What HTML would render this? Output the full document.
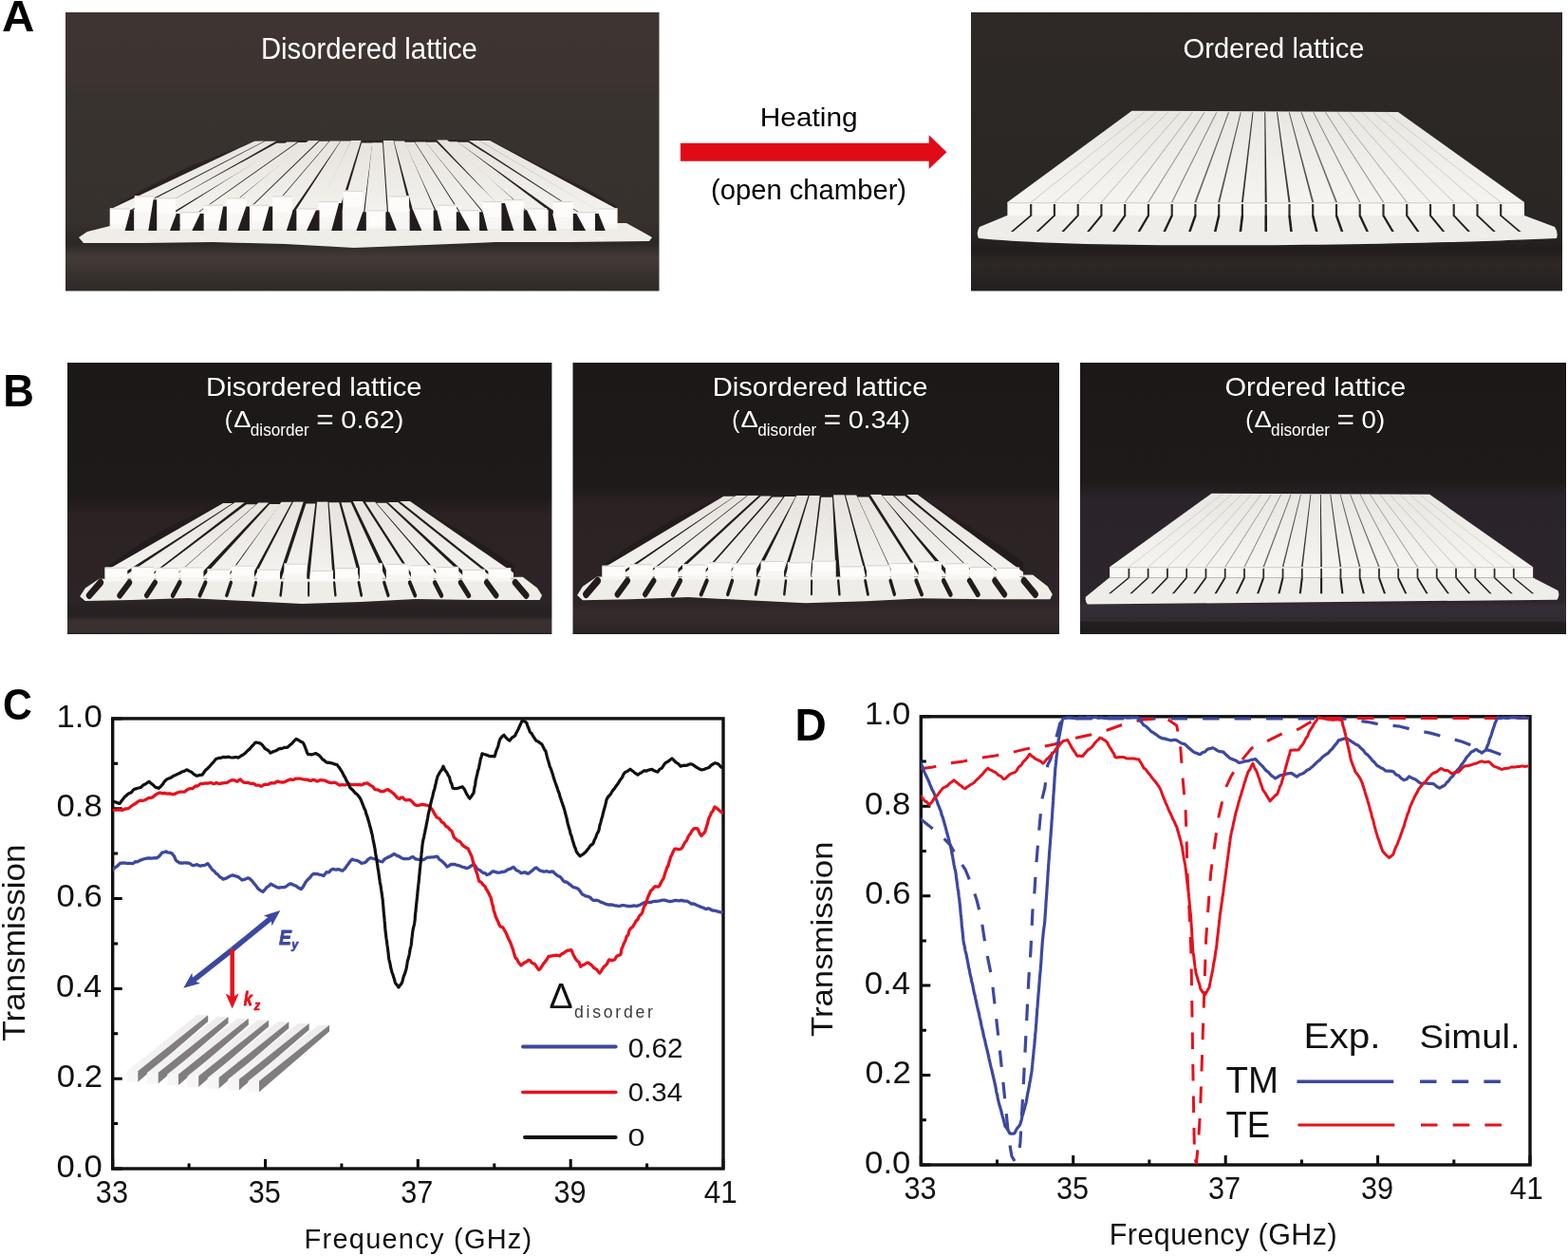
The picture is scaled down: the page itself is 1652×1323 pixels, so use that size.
<!DOCTYPE html>
<html><head><meta charset="utf-8"><title>Figure</title>
<style>html,body{margin:0;padding:0;background:#fff;}svg{display:block;}text{font-family:'Liberation Sans', Arial, Helvetica, sans-serif;}</style>
</head><body>
<svg width="1652" height="1323" viewBox="0 0 1652 1323">
<defs><filter id="soft" x="-5%" y="-5%" width="110%" height="110%"><feGaussianBlur stdDeviation="0.55"/></filter><linearGradient id="gbar" gradientUnits="userSpaceOnUse" x1="0" y1="147" x2="0" y2="225"><stop offset="0" stop-color="#e6e3de"/><stop offset="1" stop-color="#f4f2ee"/></linearGradient><linearGradient id="gtopA" gradientUnits="userSpaceOnUse" x1="0" y1="117" x2="0" y2="213"><stop offset="0" stop-color="#e9e7e2"/><stop offset="1" stop-color="#f5f4f0"/></linearGradient><linearGradient id="ga1" x1="0" y1="0" x2="0" y2="1"><stop offset="0" stop-color="#3e3432"/><stop offset="0.26" stop-color="#3d3331"/><stop offset="0.29" stop-color="#39332f"/><stop offset="0.75" stop-color="#37312d"/><stop offset="0.83" stop-color="#2c2826"/><stop offset="0.88" stop-color="#443b37"/><stop offset="0.93" stop-color="#3a3330"/><stop offset="1" stop-color="#2f2a27"/></linearGradient><linearGradient id="ga2" x1="0" y1="0" x2="0" y2="1"><stop offset="0" stop-color="#2e2926"/><stop offset="0.6" stop-color="#2b2725"/><stop offset="0.8" stop-color="#292524"/><stop offset="0.85" stop-color="#211d1c"/><stop offset="0.9" stop-color="#2d2826"/><stop offset="1" stop-color="#231f1e"/></linearGradient><clipPath id="clip5"><polygon points="268.6,148.6 516,147 560,170 620,200 650,217 650,238 116,238 116,220 150,200 200,175"/></clipPath><linearGradient id="gb1" x1="0" y1="0" x2="0" y2="1"><stop offset="0" stop-color="#1d1818"/><stop offset="0.5" stop-color="#1f1a1a"/><stop offset="0.56" stop-color="#2c2224"/><stop offset="0.88" stop-color="#2c2426"/><stop offset="0.9" stop-color="#262122"/><stop offset="0.935" stop-color="#272122"/><stop offset="0.95" stop-color="#3a3030"/><stop offset="0.99" stop-color="#393030"/><stop offset="1" stop-color="#232020"/></linearGradient><linearGradient id="gb2" x1="0" y1="0" x2="0" y2="1"><stop offset="0" stop-color="#1d1818"/><stop offset="0.46" stop-color="#1f1a1a"/><stop offset="0.52" stop-color="#2c2224"/><stop offset="0.88" stop-color="#2c2426"/><stop offset="0.92" stop-color="#342b2b"/><stop offset="0.96" stop-color="#312929"/><stop offset="0.99" stop-color="#2a2424"/><stop offset="1" stop-color="#221e1e"/></linearGradient><linearGradient id="gb3" x1="0" y1="0" x2="0" y2="1"><stop offset="0" stop-color="#1d1818"/><stop offset="0.44" stop-color="#1f1a1a"/><stop offset="0.5" stop-color="#2a2329"/><stop offset="0.88" stop-color="#2c252b"/><stop offset="0.895" stop-color="#342d35"/><stop offset="0.95" stop-color="#302a31"/><stop offset="0.958" stop-color="#221e1f"/><stop offset="1" stop-color="#1f1c1d"/></linearGradient><clipPath id="clip11"><polygon points="268.6,148.6 516,147 560,170 620,200 650,217 650,232 116,232 116,220 150,200 200,175"/></clipPath><clipPath id="clip21"><polygon points="268.6,148.6 516,147 560,170 620,200 650,217 650,232 116,232 116,220 150,200 200,175"/></clipPath><clipPath id="cpc"><rect x="118.7" y="756" width="643.3" height="475"/></clipPath><clipPath id="cpd"><rect x="970.3" y="754" width="641.7" height="473"/></clipPath><linearGradient id="gtop" x1="0" y1="1" x2="1" y2="0"><stop offset="0" stop-color="#f4f4f4"/><stop offset="1" stop-color="#ececec"/></linearGradient></defs>
<rect width="1652" height="1323" fill="#fff"/>
<rect x="69" y="13" width="625.5" height="293.5" fill="url(#ga1)"/>
<rect x="1023" y="13" width="623" height="293.5" fill="url(#ga2)"/>
<g transform="translate(0,0)" filter="url(#soft)"><polygon points="83,250 92,244 116,238 660,235 680,246 687,250 684,254 600,255 522,255 450,258 373,261 300,257 224,255 150,256 88,256" fill="#efede8"/><polygon points="268.6,148.6 516,147 560,170 620,200 650,217 650,238 116,238 116,220 150,200 200,175" fill="#2a2323"/><g clip-path="url(#clip5)"><polygon points="268.9,148.2 279.3,148.2 102.7,239 76.6,239" fill="url(#gbar)"/><polygon points="279.8,148.6 291.3,148.6 132,239 106.2,239" fill="url(#gbar)"/><polygon points="291.5,150.8 302.5,150.8 156.3,239 130.2,239" fill="url(#gbar)"/><polygon points="302.4,149.5 313.3,149.5 186.7,239 160.7,239" fill="url(#gbar)"/><polygon points="314,150.1 324.3,150.1 214,239 187.8,239" fill="url(#gbar)"/><polygon points="325.3,147.8 336.2,147.8 241.9,239 216,239" fill="url(#gbar)"/><polygon points="336.6,148.7 346.8,148.7 269.3,239 243.1,239" fill="url(#gbar)"/><polygon points="347.6,148.6 358.7,148.6 296.6,239 270.6,239" fill="url(#gbar)"/><polygon points="359.1,148.5 369.6,148.5 326.5,239 300.4,239" fill="url(#gbar)"/><polygon points="369.9,147.7 380.6,147.7 351.6,239 325.6,239" fill="url(#gbar)"/><polygon points="381,150.4 392.3,150.4 381.2,239 355.2,239" fill="url(#gbar)"/><polygon points="392.2,150.3 403,150.3 408.8,239 382.7,239" fill="url(#gbar)"/><polygon points="403.8,147.9 414.5,147.9 436.1,239 410.1,239" fill="url(#gbar)"/><polygon points="415.1,148.5 426.1,148.5 465.7,239 439.8,239" fill="url(#gbar)"/><polygon points="426.2,149.8 436.7,149.8 493.5,239 467.4,239" fill="url(#gbar)"/><polygon points="437.1,149.5 448.3,149.5 520.8,239 494.9,239" fill="url(#gbar)"/><polygon points="448.4,149.8 459.8,149.8 548.3,239 522.4,239" fill="url(#gbar)"/><polygon points="460.1,147.2 471,147.2 572.8,239 546.9,239" fill="url(#gbar)"/><polygon points="471.2,149.3 481.8,149.3 601,239 574.9,239" fill="url(#gbar)"/><polygon points="482.3,149.7 493.3,149.7 633.2,239 607.1,239" fill="url(#gbar)"/><polygon points="494,148 504.9,148 659.8,239 633.8,239" fill="url(#gbar)"/><polygon points="504.9,148 516,148 684.9,239 658.9,239" fill="url(#gbar)"/></g><rect x="115.7" y="219.4" width="21.1" height="21.6" fill="#f7f6f2"/><rect x="116" y="219.4" width="20.5" height="17" fill="#fdfcfa"/><line x1="116" y1="220" x2="136.5" y2="220" stroke="#d9d5cf" stroke-width="1.2"/><rect x="141.7" y="206.3" width="21.1" height="34.7" fill="#f7f6f2"/><rect x="142" y="206.3" width="20.5" height="17" fill="#fdfcfa"/><line x1="142" y1="206.9" x2="162.5" y2="206.9" stroke="#d9d5cf" stroke-width="1.2"/><rect x="164.1" y="208.2" width="21.1" height="32.8" fill="#f7f6f2"/><rect x="164.4" y="208.2" width="20.5" height="17" fill="#fdfcfa"/><line x1="164.4" y1="208.8" x2="184.9" y2="208.8" stroke="#d9d5cf" stroke-width="1.2"/><rect x="190.1" y="223.1" width="21.1" height="17.9" fill="#f7f6f2"/><rect x="190.4" y="223.1" width="20.5" height="17" fill="#fdfcfa"/><line x1="190.4" y1="223.7" x2="210.9" y2="223.7" stroke="#d9d5cf" stroke-width="1.2"/><rect x="214.3" y="215.6" width="21.1" height="25.4" fill="#f7f6f2"/><rect x="214.6" y="215.6" width="20.5" height="17" fill="#fdfcfa"/><line x1="214.6" y1="216.2" x2="235.1" y2="216.2" stroke="#d9d5cf" stroke-width="1.2"/><rect x="238.5" y="208.2" width="21.1" height="32.8" fill="#f7f6f2"/><rect x="238.8" y="208.2" width="20.5" height="17" fill="#fdfcfa"/><line x1="238.8" y1="208.8" x2="259.3" y2="208.8" stroke="#d9d5cf" stroke-width="1.2"/><rect x="262.7" y="215.6" width="21.1" height="25.4" fill="#f7f6f2"/><rect x="263" y="215.6" width="20.5" height="17" fill="#fdfcfa"/><line x1="263" y1="216.2" x2="283.5" y2="216.2" stroke="#d9d5cf" stroke-width="1.2"/><rect x="286.9" y="206.3" width="21.1" height="34.7" fill="#f7f6f2"/><rect x="287.2" y="206.3" width="20.5" height="17" fill="#fdfcfa"/><line x1="287.2" y1="206.9" x2="307.7" y2="206.9" stroke="#d9d5cf" stroke-width="1.2"/><rect x="313" y="219.4" width="21.1" height="21.6" fill="#f7f6f2"/><rect x="313.3" y="219.4" width="20.5" height="17" fill="#fdfcfa"/><line x1="313.3" y1="220" x2="333.8" y2="220" stroke="#d9d5cf" stroke-width="1.2"/><rect x="335.3" y="211.9" width="21.1" height="29.1" fill="#f7f6f2"/><rect x="335.6" y="211.9" width="20.5" height="17" fill="#fdfcfa"/><line x1="335.6" y1="212.5" x2="356.1" y2="212.5" stroke="#d9d5cf" stroke-width="1.2"/><rect x="361.4" y="200.7" width="21.1" height="40.3" fill="#f7f6f2"/><rect x="361.7" y="200.7" width="20.5" height="17" fill="#fdfcfa"/><line x1="361.7" y1="201.3" x2="382.2" y2="201.3" stroke="#d9d5cf" stroke-width="1.2"/><rect x="385.6" y="221.2" width="21.1" height="19.8" fill="#f7f6f2"/><rect x="385.9" y="221.2" width="20.5" height="17" fill="#fdfcfa"/><line x1="385.9" y1="221.8" x2="406.4" y2="221.8" stroke="#d9d5cf" stroke-width="1.2"/><rect x="409.8" y="206.3" width="21.1" height="34.7" fill="#f7f6f2"/><rect x="410.1" y="206.3" width="20.5" height="17" fill="#fdfcfa"/><line x1="410.1" y1="206.9" x2="430.6" y2="206.9" stroke="#d9d5cf" stroke-width="1.2"/><rect x="435.8" y="219.4" width="21.1" height="21.6" fill="#f7f6f2"/><rect x="436.1" y="219.4" width="20.5" height="17" fill="#fdfcfa"/><line x1="436.1" y1="220" x2="456.6" y2="220" stroke="#d9d5cf" stroke-width="1.2"/><rect x="460" y="215.6" width="21.1" height="25.4" fill="#f7f6f2"/><rect x="460.3" y="215.6" width="20.5" height="17" fill="#fdfcfa"/><line x1="460.3" y1="216.2" x2="480.8" y2="216.2" stroke="#d9d5cf" stroke-width="1.2"/><rect x="484.2" y="221.2" width="21.1" height="19.8" fill="#f7f6f2"/><rect x="484.5" y="221.2" width="20.5" height="17" fill="#fdfcfa"/><line x1="484.5" y1="221.8" x2="505" y2="221.8" stroke="#d9d5cf" stroke-width="1.2"/><rect x="508.4" y="211.9" width="21.1" height="29.1" fill="#f7f6f2"/><rect x="508.7" y="211.9" width="20.5" height="17" fill="#fdfcfa"/><line x1="508.7" y1="212.5" x2="529.2" y2="212.5" stroke="#d9d5cf" stroke-width="1.2"/><rect x="530.8" y="210" width="21.1" height="31" fill="#f7f6f2"/><rect x="531.1" y="210" width="20.5" height="17" fill="#fdfcfa"/><line x1="531.1" y1="210.6" x2="551.6" y2="210.6" stroke="#d9d5cf" stroke-width="1.2"/><rect x="555" y="219.4" width="21.1" height="21.6" fill="#f7f6f2"/><rect x="555.3" y="219.4" width="20.5" height="17" fill="#fdfcfa"/><line x1="555.3" y1="220" x2="575.8" y2="220" stroke="#d9d5cf" stroke-width="1.2"/><rect x="582.9" y="211.9" width="21.1" height="29.1" fill="#f7f6f2"/><rect x="583.2" y="211.9" width="20.5" height="17" fill="#fdfcfa"/><line x1="583.2" y1="212.5" x2="603.7" y2="212.5" stroke="#d9d5cf" stroke-width="1.2"/><rect x="607.1" y="223.1" width="21.1" height="17.9" fill="#f7f6f2"/><rect x="607.4" y="223.1" width="20.5" height="17" fill="#fdfcfa"/><line x1="607.4" y1="223.7" x2="627.9" y2="223.7" stroke="#d9d5cf" stroke-width="1.2"/><rect x="629.4" y="219.4" width="21.1" height="21.6" fill="#f7f6f2"/><rect x="629.7" y="219.4" width="20.5" height="17" fill="#fdfcfa"/><line x1="629.7" y1="220" x2="650.2" y2="220" stroke="#d9d5cf" stroke-width="1.2"/><polygon points="137.4,221.4 141.1,221.4 141.1,243 131.6,243" fill="#221c1d"/><polygon points="161.6,210.2 165.2,210.2 165.2,243 156.3,243" fill="#221c1d"/><polygon points="185.8,225.1 189.5,225.1 189.5,243 179,243" fill="#221c1d"/><polygon points="210.9,225.1 214.6,225.1 214.6,243 202.3,243" fill="#221c1d"/><polygon points="235.1,217.6 238.8,217.6 238.8,243 230.1,243" fill="#221c1d"/><polygon points="259.3,217.6 262.9,217.6 262.9,243 250.3,243" fill="#221c1d"/><polygon points="283.6,217.6 287.2,217.6 287.2,243 276.5,243" fill="#221c1d"/><polygon points="308.7,221.4 312.3,221.4 312.3,243 301.8,243" fill="#221c1d"/><polygon points="332.9,221.4 336.5,221.4 336.5,243 323,243" fill="#221c1d"/><polygon points="357.1,213.9 360.7,213.9 360.7,243 349.2,243" fill="#221c1d"/><polygon points="382.2,223.2 385.8,223.2 385.8,243 375.4,243" fill="#221c1d"/><polygon points="406.4,223.2 410.1,223.2 417.9,243 406.4,243" fill="#221c1d"/><polygon points="431.6,221.4 435.2,221.4 444.4,243 431.6,243" fill="#221c1d"/><polygon points="456.7,221.4 460.3,221.4 465.6,243 456.7,243" fill="#221c1d"/><polygon points="480.8,223.2 484.4,223.2 495.3,243 480.8,243" fill="#221c1d"/><polygon points="505.1,223.2 508.7,223.2 513.8,243 505.1,243" fill="#221c1d"/><polygon points="528.4,213.9 532,213.9 541.4,243 528.4,243" fill="#221c1d"/><polygon points="551.7,221.4 555.2,221.4 565.3,243 551.7,243" fill="#221c1d"/><polygon points="577.7,221.4 581.3,221.4 586.4,243 577.7,243" fill="#221c1d"/><polygon points="603.8,225.1 607.3,225.1 617.1,243 603.8,243" fill="#221c1d"/><polygon points="627,225.1 630.6,225.1 637.8,243 627,243" fill="#221c1d"/></g>
<g transform="translate(0,0)" filter="url(#soft)"><path d="M1061 227 L1606 227 L1638 239 Q1642 245 1640 251 C1520 257 1160 264 1031 251 Q1028 245 1032 239 Z" fill="#efede9"/><polygon points="1192.5,116.7 1473,117.9 1606,213 1061.4,213" fill="url(#gtopA)"/><polygon points="1204.8,118.2 1205.7,118.2 1086.9,213 1085.5,213" fill="#2a2424" opacity="0.18"/><polygon points="1217.5,118.2 1218.5,118.2 1111.6,213 1110.2,213" fill="#2a2424" opacity="0.18"/><polygon points="1230.3,118.2 1231.2,118.2 1136.4,213 1135,213" fill="#2a2424" opacity="0.18"/><polygon points="1243,118.2 1244,118.2 1161.1,213 1159.7,213" fill="#2a2424" opacity="0.20"/><polygon points="1255.8,118.2 1256.7,118.2 1185.9,213 1184.5,213" fill="#2a2424" opacity="0.32"/><polygon points="1268.5,118.2 1269.5,118.2 1210.6,213 1209.2,213" fill="#2a2424" opacity="0.43"/><polygon points="1281.3,118.2 1282.2,118.2 1235.4,213 1234,213" fill="#2a2424" opacity="0.55"/><polygon points="1294,118.2 1295,118.2 1260.4,213 1258.4,213" fill="#2a2424" opacity="0.66"/><polygon points="1306.8,118.2 1307.7,118.2 1285.2,213 1283.2,213" fill="#2a2424" opacity="0.77"/><polygon points="1319.5,118.2 1320.5,118.2 1309.9,213 1307.9,213" fill="#2a2424" opacity="0.89"/><polygon points="1332.3,118.2 1333.2,118.2 1334.7,213 1332.7,213" fill="#2a2424" opacity="1.00"/><polygon points="1345,118.2 1346,118.2 1359.5,213 1357.5,213" fill="#2a2424" opacity="0.89"/><polygon points="1357.8,118.2 1358.7,118.2 1384.2,213 1382.2,213" fill="#2a2424" opacity="0.77"/><polygon points="1370.5,118.2 1371.5,118.2 1409,213 1407,213" fill="#2a2424" opacity="0.66"/><polygon points="1383.3,118.2 1384.2,118.2 1433.4,213 1432,213" fill="#2a2424" opacity="0.55"/><polygon points="1396,118.2 1397,118.2 1458.2,213 1456.8,213" fill="#2a2424" opacity="0.43"/><polygon points="1408.8,118.2 1409.7,118.2 1482.9,213 1481.5,213" fill="#2a2424" opacity="0.32"/><polygon points="1421.5,118.2 1422.5,118.2 1507.7,213 1506.3,213" fill="#2a2424" opacity="0.20"/><polygon points="1434.3,118.2 1435.2,118.2 1532.4,213 1531,213" fill="#2a2424" opacity="0.18"/><polygon points="1447,118.2 1448,118.2 1557.2,213 1555.8,213" fill="#2a2424" opacity="0.18"/><polygon points="1459.8,118.2 1460.7,118.2 1581.9,213 1580.5,213" fill="#2a2424" opacity="0.18"/><rect x="1061.4" y="213" width="544.6" height="14" fill="#f8f7f4"/><line x1="1061.4" y1="213.6" x2="1606" y2="213.6" stroke="#d6d2cc" stroke-width="1.2"/><polygon points="1085.1,215 1087.3,215 1087.3,227 1085.1,227" fill="#332c2c"/><polygon points="1084.9,227 1087.5,227 1067.5,244 1064.9,244" fill="#241e1e"/><polygon points="1109.8,215 1112,215 1112,227 1109.8,227" fill="#332c2c"/><polygon points="1109.6,227 1112.2,227 1094.2,244 1091.6,244" fill="#241e1e"/><polygon points="1134.6,215 1136.8,215 1136.8,227 1134.6,227" fill="#332c2c"/><polygon points="1134.4,227 1137,227 1121,244 1118.4,244" fill="#241e1e"/><polygon points="1159.3,215 1161.5,215 1161.5,227 1159.3,227" fill="#332c2c"/><polygon points="1159.1,227 1161.7,227 1147.7,244 1145.1,244" fill="#241e1e"/><polygon points="1184.1,215 1186.3,215 1186.3,227 1184.1,227" fill="#332c2c"/><polygon points="1183.9,227 1186.5,227 1174.5,244 1171.9,244" fill="#241e1e"/><polygon points="1208.8,215 1211,215 1211,227 1208.8,227" fill="#332c2c"/><polygon points="1208.6,227 1211.2,227 1201.2,244 1198.6,244" fill="#241e1e"/><polygon points="1233.6,215 1235.8,215 1235.8,227 1233.6,227" fill="#332c2c"/><polygon points="1233.4,227 1236,227 1228,244 1225.4,244" fill="#241e1e"/><polygon points="1258.3,215 1260.5,215 1260.5,227 1258.3,227" fill="#332c2c"/><polygon points="1258.1,227 1260.7,227 1254.7,244 1252.1,244" fill="#241e1e"/><polygon points="1283.1,215 1285.3,215 1285.3,227 1283.1,227" fill="#332c2c"/><polygon points="1282.9,227 1285.5,227 1281.5,244 1278.9,244" fill="#241e1e"/><polygon points="1307.8,215 1310,215 1310,227 1307.8,227" fill="#332c2c"/><polygon points="1307.6,227 1310.2,227 1308.2,244 1305.6,244" fill="#241e1e"/><polygon points="1332.6,215 1334.8,215 1334.8,227 1332.6,227" fill="#332c2c"/><polygon points="1332.4,227 1335,227 1335,244 1332.4,244" fill="#241e1e"/><polygon points="1357.4,215 1359.6,215 1359.6,227 1357.4,227" fill="#332c2c"/><polygon points="1357.2,227 1359.8,227 1361.8,244 1359.2,244" fill="#241e1e"/><polygon points="1382.1,215 1384.3,215 1384.3,227 1382.1,227" fill="#332c2c"/><polygon points="1381.9,227 1384.5,227 1388.5,244 1385.9,244" fill="#241e1e"/><polygon points="1406.9,215 1409.1,215 1409.1,227 1406.9,227" fill="#332c2c"/><polygon points="1406.7,227 1409.3,227 1415.3,244 1412.7,244" fill="#241e1e"/><polygon points="1431.6,215 1433.8,215 1433.8,227 1431.6,227" fill="#332c2c"/><polygon points="1431.4,227 1434,227 1442,244 1439.4,244" fill="#241e1e"/><polygon points="1456.4,215 1458.6,215 1458.6,227 1456.4,227" fill="#332c2c"/><polygon points="1456.2,227 1458.8,227 1468.8,244 1466.2,244" fill="#241e1e"/><polygon points="1481.1,215 1483.3,215 1483.3,227 1481.1,227" fill="#332c2c"/><polygon points="1480.9,227 1483.5,227 1495.5,244 1492.9,244" fill="#241e1e"/><polygon points="1505.9,215 1508.1,215 1508.1,227 1505.9,227" fill="#332c2c"/><polygon points="1505.7,227 1508.3,227 1522.3,244 1519.7,244" fill="#241e1e"/><polygon points="1530.6,215 1532.8,215 1532.8,227 1530.6,227" fill="#332c2c"/><polygon points="1530.4,227 1533,227 1549,244 1546.4,244" fill="#241e1e"/><polygon points="1555.4,215 1557.6,215 1557.6,227 1555.4,227" fill="#332c2c"/><polygon points="1555.2,227 1557.8,227 1575.8,244 1573.2,244" fill="#241e1e"/><polygon points="1580.1,215 1582.3,215 1582.3,227 1580.1,227" fill="#332c2c"/><polygon points="1579.9,227 1582.5,227 1602.5,244 1599.9,244" fill="#241e1e"/></g>
<text transform="translate(274.96,62.19) scale(0.9572,1)" font-size="30.61" font-weight="normal" font-style="normal" fill="#fff" >Disordered lattice</text>
<text transform="translate(1246.59,61.11) scale(1.0138,1)" font-size="28.71" font-weight="normal" font-style="normal" fill="#fff" >Ordered lattice</text>
<polygon points="716.9,150.7 978.7,150.7 978.7,142.2 997.4,160.2 978.7,177.9 978.7,169.8 716.9,169.8" fill="#e10a17"/>
<text transform="translate(800.81,132.59) scale(1.0612,1)" font-size="28.13" font-weight="normal" font-style="normal" fill="#000" >Heating</text>
<text transform="translate(748.95,210.19) scale(1.0042,1)" font-size="29.09" font-weight="normal" font-style="normal" fill="#000" >(open chamber)</text>
<rect x="71" y="382" width="510.4" height="286" fill="url(#gb1)"/>
<rect x="603.5" y="382" width="512.5" height="286" fill="url(#gb2)"/>
<rect x="1138" y="382" width="512" height="286" fill="url(#gb3)"/>
<g transform="matrix(0.806,0,0,0.9675,17.3,385.3)" filter="url(#soft)"><polygon points="83,251 90,242 108,232 662,230 681,242 687,250 684,255 600,255 522,254 450,257 373,259 300,256 224,253 150,255 90,256" fill="#efede8"/><polygon points="268.6,148.6 516,147 560,170 620,200 650,217 650,232 116,232 116,220 150,200 200,175" fill="#221c1d"/><g clip-path="url(#clip11)"><polygon points="270.2,149.5 282.7,149.5 126.4,233 96.5,233" fill="url(#gbar)"/><polygon points="285.7,148.7 298.3,148.7 166.8,233 133.8,233" fill="url(#gbar)"/><polygon points="300.7,150.8 313.3,150.8 200.9,233 169.5,233" fill="url(#gbar)"/><polygon points="316.4,149 329.8,149 233.5,233 201.7,233" fill="url(#gbar)"/><polygon points="331.1,150.6 344.9,150.6 272.1,233 240.9,233" fill="url(#gbar)"/><polygon points="346.5,148.1 360.2,148.1 305,233 274.3,233" fill="url(#gbar)"/><polygon points="362.1,147.8 375.3,147.8 341.4,233 309.4,233" fill="url(#gbar)"/><polygon points="378.6,150.1 390.8,150.1 378.3,233 346,233" fill="url(#gbar)"/><polygon points="393,147.9 407.1,147.9 413.5,233 382.9,233" fill="url(#gbar)"/><polygon points="408.5,148.9 421.7,148.9 448.6,233 417.3,233" fill="url(#gbar)"/><polygon points="424.5,148.8 437.1,148.8 483.9,233 453.2,233" fill="url(#gbar)"/><polygon points="439.9,147.6 452.3,147.6 518.1,233 489.5,233" fill="url(#gbar)"/><polygon points="456.1,148.2 468.7,148.2 555.4,233 521.7,233" fill="url(#gbar)"/><polygon points="470.7,149.3 483.5,149.3 589.8,233 558.6,233" fill="url(#gbar)"/><polygon points="485.7,148.4 498.7,148.4 625.6,233 596.3,233" fill="url(#gbar)"/><polygon points="501.2,147.4 514.5,147.4 663,233 630.6,233" fill="url(#gbar)"/></g><rect x="115.6" y="219.5" width="29.5" height="15.5" fill="#f7f6f2"/><rect x="115.9" y="219.5" width="28.9" height="11" fill="#fdfcfa"/><line x1="115.9" y1="220.1" x2="144.8" y2="220.1" stroke="#d9d5cf" stroke-width="1.2"/><rect x="150.4" y="218.7" width="29.5" height="16.3" fill="#f7f6f2"/><rect x="150.7" y="218.7" width="28.9" height="11" fill="#fdfcfa"/><line x1="150.7" y1="219.3" x2="179.6" y2="219.3" stroke="#d9d5cf" stroke-width="1.2"/><rect x="182.5" y="219.7" width="29.5" height="15.3" fill="#f7f6f2"/><rect x="182.8" y="219.7" width="28.9" height="11" fill="#fdfcfa"/><line x1="182.8" y1="220.3" x2="211.7" y2="220.3" stroke="#d9d5cf" stroke-width="1.2"/><rect x="215" y="219.1" width="29.5" height="15.9" fill="#f7f6f2"/><rect x="215.3" y="219.1" width="28.9" height="11" fill="#fdfcfa"/><line x1="215.3" y1="219.7" x2="244.2" y2="219.7" stroke="#d9d5cf" stroke-width="1.2"/><rect x="249.7" y="221.3" width="29.5" height="13.7" fill="#f7f6f2"/><rect x="250" y="221.3" width="28.9" height="11" fill="#fdfcfa"/><line x1="250" y1="221.9" x2="278.9" y2="221.9" stroke="#d9d5cf" stroke-width="1.2"/><rect x="281.5" y="217.4" width="29.5" height="17.6" fill="#f7f6f2"/><rect x="281.8" y="217.4" width="28.9" height="11" fill="#fdfcfa"/><line x1="281.8" y1="218" x2="310.7" y2="218" stroke="#d9d5cf" stroke-width="1.2"/><rect x="314.9" y="221.5" width="29.5" height="13.5" fill="#f7f6f2"/><rect x="315.2" y="221.5" width="28.9" height="11" fill="#fdfcfa"/><line x1="315.2" y1="222.1" x2="344.1" y2="222.1" stroke="#d9d5cf" stroke-width="1.2"/><rect x="350.1" y="215.3" width="29.5" height="19.7" fill="#f7f6f2"/><rect x="350.4" y="215.3" width="28.9" height="11" fill="#fdfcfa"/><line x1="350.4" y1="215.9" x2="379.3" y2="215.9" stroke="#d9d5cf" stroke-width="1.2"/><rect x="384.4" y="222.7" width="29.5" height="12.3" fill="#f7f6f2"/><rect x="384.7" y="222.7" width="28.9" height="11" fill="#fdfcfa"/><line x1="384.7" y1="223.3" x2="413.6" y2="223.3" stroke="#d9d5cf" stroke-width="1.2"/><rect x="416.8" y="219.9" width="29.5" height="15.1" fill="#f7f6f2"/><rect x="417.1" y="219.9" width="28.9" height="11" fill="#fdfcfa"/><line x1="417.1" y1="220.5" x2="446" y2="220.5" stroke="#d9d5cf" stroke-width="1.2"/><rect x="448.7" y="215.1" width="29.5" height="19.9" fill="#f7f6f2"/><rect x="449" y="215.1" width="28.9" height="11" fill="#fdfcfa"/><line x1="449" y1="215.7" x2="477.9" y2="215.7" stroke="#d9d5cf" stroke-width="1.2"/><rect x="483.3" y="215.5" width="29.5" height="19.5" fill="#f7f6f2"/><rect x="483.6" y="215.5" width="28.9" height="11" fill="#fdfcfa"/><line x1="483.6" y1="216.1" x2="512.5" y2="216.1" stroke="#d9d5cf" stroke-width="1.2"/><rect x="515.6" y="216.9" width="29.5" height="18.1" fill="#f7f6f2"/><rect x="515.9" y="216.9" width="28.9" height="11" fill="#fdfcfa"/><line x1="515.9" y1="217.5" x2="544.9" y2="217.5" stroke="#d9d5cf" stroke-width="1.2"/><rect x="548.6" y="218.7" width="29.5" height="16.3" fill="#f7f6f2"/><rect x="548.9" y="218.7" width="28.9" height="11" fill="#fdfcfa"/><line x1="548.9" y1="219.3" x2="577.8" y2="219.3" stroke="#d9d5cf" stroke-width="1.2"/><rect x="583.2" y="221.7" width="29.5" height="13.3" fill="#f7f6f2"/><rect x="583.5" y="221.7" width="28.9" height="11" fill="#fdfcfa"/><line x1="583.5" y1="222.3" x2="612.4" y2="222.3" stroke="#d9d5cf" stroke-width="1.2"/><rect x="616.9" y="220.1" width="29.5" height="14.9" fill="#f7f6f2"/><rect x="617.2" y="220.1" width="28.9" height="11" fill="#fdfcfa"/><line x1="617.2" y1="220.7" x2="646.1" y2="220.7" stroke="#d9d5cf" stroke-width="1.2"/><line x1="109.9" y1="236" x2="95.2" y2="250" stroke="#211b1c" stroke-width="7.9" stroke-linecap="round"/><line x1="147.7" y1="236" x2="135.1" y2="250" stroke="#211b1c" stroke-width="7" stroke-linecap="round"/><line x1="181.2" y1="236" x2="170.3" y2="250" stroke="#211b1c" stroke-width="6.3" stroke-linecap="round"/><line x1="213.5" y1="236" x2="204.4" y2="250" stroke="#211b1c" stroke-width="5.6" stroke-linecap="round"/><line x1="247.1" y1="236" x2="239.7" y2="250" stroke="#211b1c" stroke-width="4.9" stroke-linecap="round"/><line x1="280.4" y1="236" x2="274.8" y2="250" stroke="#211b1c" stroke-width="4.2" stroke-linecap="round"/><line x1="313" y1="236" x2="309.1" y2="250" stroke="#211b1c" stroke-width="3.6" stroke-linecap="round"/><line x1="347.3" y1="236" x2="345.3" y2="250" stroke="#211b1c" stroke-width="3" stroke-linecap="round"/><line x1="382" y1="236" x2="381.9" y2="250" stroke="#211b1c" stroke-width="2.5" stroke-linecap="round"/><line x1="415.4" y1="236" x2="417" y2="250" stroke="#211b1c" stroke-width="2.9" stroke-linecap="round"/><line x1="447.5" y1="236" x2="450.9" y2="250" stroke="#211b1c" stroke-width="3.4" stroke-linecap="round"/><line x1="480.7" y1="236" x2="485.9" y2="250" stroke="#211b1c" stroke-width="4" stroke-linecap="round"/><line x1="514.2" y1="236" x2="521.1" y2="250" stroke="#211b1c" stroke-width="4.7" stroke-linecap="round"/><line x1="546.9" y1="236" x2="555.5" y2="250" stroke="#211b1c" stroke-width="5.4" stroke-linecap="round"/><line x1="580.6" y1="236" x2="591.1" y2="250" stroke="#211b1c" stroke-width="6.1" stroke-linecap="round"/><line x1="614.8" y1="236" x2="627" y2="250" stroke="#211b1c" stroke-width="6.9" stroke-linecap="round"/><line x1="652.1" y1="236" x2="666.3" y2="250" stroke="#211b1c" stroke-width="7.7" stroke-linecap="round"/></g>
<g transform="matrix(0.829,0,0,1.025,539.3,369.8)" filter="url(#soft)"><polygon points="83,251 90,242 108,232 662,230 681,242 687,250 684,255 600,255 522,254 450,257 373,259 300,256 224,253 150,255 90,256" fill="#efede8"/><polygon points="268.6,148.6 516,147 560,170 620,200 650,217 650,232 116,232 116,220 150,200 200,175" fill="#221c1d"/><g clip-path="url(#clip21)"><polygon points="269.1,149.1 283.1,149.1 128.7,233 95.6,233" fill="url(#gbar)"/><polygon points="284.8,148.6 298.8,148.6 164.3,233 133.9,233" fill="url(#gbar)"/><polygon points="300.2,148.3 314.1,148.3 198.7,233 167,233" fill="url(#gbar)"/><polygon points="316.4,148.9 329.6,148.9 237.1,233 204.3,233" fill="url(#gbar)"/><polygon points="330.9,149.9 344.8,149.9 271.4,233 240,233" fill="url(#gbar)"/><polygon points="346.7,149.4 360.6,149.4 305,233 273,233" fill="url(#gbar)"/><polygon points="361.8,148.5 376.6,148.5 343.2,233 310.7,233" fill="url(#gbar)"/><polygon points="378.1,148.5 391.4,148.5 378.7,233 347,233" fill="url(#gbar)"/><polygon points="393,150.2 407.4,150.2 411.8,233 380.5,233" fill="url(#gbar)"/><polygon points="408.5,147.7 422.7,147.7 450.1,233 417.5,233" fill="url(#gbar)"/><polygon points="424.1,147.9 437.8,147.9 486.1,233 453.1,233" fill="url(#gbar)"/><polygon points="439.2,150 453.4,150 518.9,233 487,233" fill="url(#gbar)"/><polygon points="455.1,147 468.8,147 554.9,233 522.6,233" fill="url(#gbar)"/><polygon points="470.5,148.5 484.4,148.5 593.3,233 561.3,233" fill="url(#gbar)"/><polygon points="486.1,148.8 499.3,148.8 626.9,233 594.4,233" fill="url(#gbar)"/><polygon points="501.9,147.4 515.5,147.4 659.9,233 628.3,233" fill="url(#gbar)"/></g><rect x="114.7" y="220.5" width="29.5" height="14.5" fill="#f7f6f2"/><rect x="115" y="220.5" width="28.9" height="11" fill="#fdfcfa"/><line x1="115" y1="221.1" x2="143.9" y2="221.1" stroke="#d9d5cf" stroke-width="1.2"/><rect x="149.5" y="218.8" width="29.5" height="16.2" fill="#f7f6f2"/><rect x="149.8" y="218.8" width="28.9" height="11" fill="#fdfcfa"/><line x1="149.8" y1="219.4" x2="178.7" y2="219.4" stroke="#d9d5cf" stroke-width="1.2"/><rect x="181.7" y="221.3" width="29.5" height="13.7" fill="#f7f6f2"/><rect x="182" y="221.3" width="28.9" height="11" fill="#fdfcfa"/><line x1="182" y1="221.9" x2="210.9" y2="221.9" stroke="#d9d5cf" stroke-width="1.2"/><rect x="216.8" y="219.1" width="29.5" height="15.9" fill="#f7f6f2"/><rect x="217.1" y="219.1" width="28.9" height="11" fill="#fdfcfa"/><line x1="217.1" y1="219.7" x2="246" y2="219.7" stroke="#d9d5cf" stroke-width="1.2"/><rect x="249.3" y="216.9" width="29.5" height="18.1" fill="#f7f6f2"/><rect x="249.6" y="216.9" width="28.9" height="11" fill="#fdfcfa"/><line x1="249.6" y1="217.5" x2="278.5" y2="217.5" stroke="#d9d5cf" stroke-width="1.2"/><rect x="281.2" y="218" width="29.5" height="17" fill="#f7f6f2"/><rect x="281.5" y="218" width="28.9" height="11" fill="#fdfcfa"/><line x1="281.5" y1="218.6" x2="310.4" y2="218.6" stroke="#d9d5cf" stroke-width="1.2"/><rect x="316.4" y="215.6" width="29.5" height="19.4" fill="#f7f6f2"/><rect x="316.7" y="215.6" width="28.9" height="11" fill="#fdfcfa"/><line x1="316.7" y1="216.2" x2="345.6" y2="216.2" stroke="#d9d5cf" stroke-width="1.2"/><rect x="350.4" y="216.9" width="29.5" height="18.1" fill="#f7f6f2"/><rect x="350.7" y="216.9" width="28.9" height="11" fill="#fdfcfa"/><line x1="350.7" y1="217.5" x2="379.6" y2="217.5" stroke="#d9d5cf" stroke-width="1.2"/><rect x="382.1" y="215.3" width="29.5" height="19.7" fill="#f7f6f2"/><rect x="382.4" y="215.3" width="28.9" height="11" fill="#fdfcfa"/><line x1="382.4" y1="215.9" x2="411.4" y2="215.9" stroke="#d9d5cf" stroke-width="1.2"/><rect x="417.8" y="220.9" width="29.5" height="14.1" fill="#f7f6f2"/><rect x="418.1" y="220.9" width="28.9" height="11" fill="#fdfcfa"/><line x1="418.1" y1="221.5" x2="447.1" y2="221.5" stroke="#d9d5cf" stroke-width="1.2"/><rect x="450.9" y="219.9" width="29.5" height="15.1" fill="#f7f6f2"/><rect x="451.2" y="219.9" width="28.9" height="11" fill="#fdfcfa"/><line x1="451.2" y1="220.5" x2="480.1" y2="220.5" stroke="#d9d5cf" stroke-width="1.2"/><rect x="481.8" y="217.6" width="29.5" height="17.4" fill="#f7f6f2"/><rect x="482.1" y="217.6" width="28.9" height="11" fill="#fdfcfa"/><line x1="482.1" y1="218.2" x2="511" y2="218.2" stroke="#d9d5cf" stroke-width="1.2"/><rect x="516.6" y="215.9" width="29.5" height="19.1" fill="#f7f6f2"/><rect x="516.9" y="215.9" width="28.9" height="11" fill="#fdfcfa"/><line x1="516.9" y1="216.5" x2="545.8" y2="216.5" stroke="#d9d5cf" stroke-width="1.2"/><rect x="551.3" y="217.9" width="29.5" height="17.1" fill="#f7f6f2"/><rect x="551.6" y="217.9" width="28.9" height="11" fill="#fdfcfa"/><line x1="551.6" y1="218.5" x2="580.5" y2="218.5" stroke="#d9d5cf" stroke-width="1.2"/><rect x="582.4" y="221.5" width="29.5" height="13.5" fill="#f7f6f2"/><rect x="582.7" y="221.5" width="28.9" height="11" fill="#fdfcfa"/><line x1="582.7" y1="222.1" x2="611.6" y2="222.1" stroke="#d9d5cf" stroke-width="1.2"/><rect x="615.7" y="222.4" width="29.5" height="12.6" fill="#f7f6f2"/><rect x="616" y="222.4" width="28.9" height="11" fill="#fdfcfa"/><line x1="616" y1="223" x2="644.9" y2="223" stroke="#d9d5cf" stroke-width="1.2"/><line x1="109" y1="236" x2="94.3" y2="250" stroke="#211b1c" stroke-width="7.9" stroke-linecap="round"/><line x1="146.9" y1="236" x2="134.2" y2="250" stroke="#211b1c" stroke-width="7" stroke-linecap="round"/><line x1="180.3" y1="236" x2="169.4" y2="250" stroke="#211b1c" stroke-width="6.3" stroke-linecap="round"/><line x1="214" y1="236" x2="204.9" y2="250" stroke="#211b1c" stroke-width="5.6" stroke-linecap="round"/><line x1="247.8" y1="236" x2="240.5" y2="250" stroke="#211b1c" stroke-width="4.8" stroke-linecap="round"/><line x1="280" y1="236" x2="274.4" y2="250" stroke="#211b1c" stroke-width="4.2" stroke-linecap="round"/><line x1="313.6" y1="236" x2="309.8" y2="250" stroke="#211b1c" stroke-width="3.6" stroke-linecap="round"/><line x1="348.2" y1="236" x2="346.2" y2="250" stroke="#211b1c" stroke-width="3" stroke-linecap="round"/><line x1="381" y1="236" x2="380.8" y2="250" stroke="#211b1c" stroke-width="2.5" stroke-linecap="round"/><line x1="414.8" y1="236" x2="416.3" y2="250" stroke="#211b1c" stroke-width="2.9" stroke-linecap="round"/><line x1="449.1" y1="236" x2="452.5" y2="250" stroke="#211b1c" stroke-width="3.4" stroke-linecap="round"/><line x1="481.1" y1="236" x2="486.2" y2="250" stroke="#211b1c" stroke-width="4" stroke-linecap="round"/><line x1="513.9" y1="236" x2="520.8" y2="250" stroke="#211b1c" stroke-width="4.7" stroke-linecap="round"/><line x1="548.7" y1="236" x2="557.4" y2="250" stroke="#211b1c" stroke-width="5.4" stroke-linecap="round"/><line x1="581.6" y1="236" x2="592.1" y2="250" stroke="#211b1c" stroke-width="6.1" stroke-linecap="round"/><line x1="613.8" y1="236" x2="626" y2="250" stroke="#211b1c" stroke-width="6.8" stroke-linecap="round"/><line x1="650.9" y1="236" x2="665.1" y2="250" stroke="#211b1c" stroke-width="7.7" stroke-linecap="round"/></g>
<g transform="matrix(0.819,0,0,0.8035,299.8,426.05)" filter="url(#soft)"><path d="M1061 227 L1606 227 L1638 244 Q1641 250 1637 256 L1033 262 Q1029 257 1031 252 Z" fill="#efede9"/><polygon points="1192.5,116.7 1473,117.9 1606,213 1061.4,213" fill="url(#gtopA)"/><polygon points="1204.8,118.2 1205.7,118.2 1086.9,213 1085.5,213" fill="#2a2424" opacity="0.18"/><polygon points="1217.5,118.2 1218.5,118.2 1111.6,213 1110.2,213" fill="#2a2424" opacity="0.18"/><polygon points="1230.3,118.2 1231.2,118.2 1136.4,213 1135,213" fill="#2a2424" opacity="0.18"/><polygon points="1243,118.2 1244,118.2 1161.1,213 1159.7,213" fill="#2a2424" opacity="0.20"/><polygon points="1255.8,118.2 1256.7,118.2 1185.9,213 1184.5,213" fill="#2a2424" opacity="0.32"/><polygon points="1268.5,118.2 1269.5,118.2 1210.6,213 1209.2,213" fill="#2a2424" opacity="0.43"/><polygon points="1281.3,118.2 1282.2,118.2 1235.4,213 1234,213" fill="#2a2424" opacity="0.55"/><polygon points="1294,118.2 1295,118.2 1260.4,213 1258.4,213" fill="#2a2424" opacity="0.66"/><polygon points="1306.8,118.2 1307.7,118.2 1285.2,213 1283.2,213" fill="#2a2424" opacity="0.77"/><polygon points="1319.5,118.2 1320.5,118.2 1309.9,213 1307.9,213" fill="#2a2424" opacity="0.89"/><polygon points="1332.3,118.2 1333.2,118.2 1334.7,213 1332.7,213" fill="#2a2424" opacity="1.00"/><polygon points="1345,118.2 1346,118.2 1359.5,213 1357.5,213" fill="#2a2424" opacity="0.89"/><polygon points="1357.8,118.2 1358.7,118.2 1384.2,213 1382.2,213" fill="#2a2424" opacity="0.77"/><polygon points="1370.5,118.2 1371.5,118.2 1409,213 1407,213" fill="#2a2424" opacity="0.66"/><polygon points="1383.3,118.2 1384.2,118.2 1433.4,213 1432,213" fill="#2a2424" opacity="0.55"/><polygon points="1396,118.2 1397,118.2 1458.2,213 1456.8,213" fill="#2a2424" opacity="0.43"/><polygon points="1408.8,118.2 1409.7,118.2 1482.9,213 1481.5,213" fill="#2a2424" opacity="0.32"/><polygon points="1421.5,118.2 1422.5,118.2 1507.7,213 1506.3,213" fill="#2a2424" opacity="0.20"/><polygon points="1434.3,118.2 1435.2,118.2 1532.4,213 1531,213" fill="#2a2424" opacity="0.18"/><polygon points="1447,118.2 1448,118.2 1557.2,213 1555.8,213" fill="#2a2424" opacity="0.18"/><polygon points="1459.8,118.2 1460.7,118.2 1581.9,213 1580.5,213" fill="#2a2424" opacity="0.18"/><rect x="1061.4" y="213" width="544.6" height="14" fill="#f8f7f4"/><line x1="1061.4" y1="213.6" x2="1606" y2="213.6" stroke="#d6d2cc" stroke-width="1.2"/><polygon points="1085.1,215 1087.3,215 1087.3,227 1085.1,227" fill="#332c2c"/><polygon points="1084.9,227 1087.5,227 1062.7,248 1060.1,248" fill="#241e1e"/><polygon points="1109.8,215 1112,215 1112,227 1109.8,227" fill="#332c2c"/><polygon points="1109.6,227 1112.2,227 1090,248 1087.4,248" fill="#241e1e"/><polygon points="1134.6,215 1136.8,215 1136.8,227 1134.6,227" fill="#332c2c"/><polygon points="1134.4,227 1137,227 1117.2,248 1114.6,248" fill="#241e1e"/><polygon points="1159.3,215 1161.5,215 1161.5,227 1159.3,227" fill="#332c2c"/><polygon points="1159.1,227 1161.7,227 1144.4,248 1141.8,248" fill="#241e1e"/><polygon points="1184.1,215 1186.3,215 1186.3,227 1184.1,227" fill="#332c2c"/><polygon points="1183.9,227 1186.5,227 1171.6,248 1169,248" fill="#241e1e"/><polygon points="1208.8,215 1211,215 1211,227 1208.8,227" fill="#332c2c"/><polygon points="1208.6,227 1211.2,227 1198.9,248 1196.3,248" fill="#241e1e"/><polygon points="1233.6,215 1235.8,215 1235.8,227 1233.6,227" fill="#332c2c"/><polygon points="1233.4,227 1236,227 1226.1,248 1223.5,248" fill="#241e1e"/><polygon points="1258.3,215 1260.5,215 1260.5,227 1258.3,227" fill="#332c2c"/><polygon points="1258.1,227 1260.7,227 1253.3,248 1250.7,248" fill="#241e1e"/><polygon points="1283.1,215 1285.3,215 1285.3,227 1283.1,227" fill="#332c2c"/><polygon points="1282.9,227 1285.5,227 1280.5,248 1277.9,248" fill="#241e1e"/><polygon points="1307.8,215 1310,215 1310,227 1307.8,227" fill="#332c2c"/><polygon points="1307.6,227 1310.2,227 1307.8,248 1305.2,248" fill="#241e1e"/><polygon points="1332.6,215 1334.8,215 1334.8,227 1332.6,227" fill="#332c2c"/><polygon points="1332.4,227 1335,227 1335,248 1332.4,248" fill="#241e1e"/><polygon points="1357.4,215 1359.6,215 1359.6,227 1357.4,227" fill="#332c2c"/><polygon points="1357.2,227 1359.8,227 1362.2,248 1359.6,248" fill="#241e1e"/><polygon points="1382.1,215 1384.3,215 1384.3,227 1382.1,227" fill="#332c2c"/><polygon points="1381.9,227 1384.5,227 1389.5,248 1386.9,248" fill="#241e1e"/><polygon points="1406.9,215 1409.1,215 1409.1,227 1406.9,227" fill="#332c2c"/><polygon points="1406.7,227 1409.3,227 1416.7,248 1414.1,248" fill="#241e1e"/><polygon points="1431.6,215 1433.8,215 1433.8,227 1431.6,227" fill="#332c2c"/><polygon points="1431.4,227 1434,227 1443.9,248 1441.3,248" fill="#241e1e"/><polygon points="1456.4,215 1458.6,215 1458.6,227 1456.4,227" fill="#332c2c"/><polygon points="1456.2,227 1458.8,227 1471.1,248 1468.5,248" fill="#241e1e"/><polygon points="1481.1,215 1483.3,215 1483.3,227 1481.1,227" fill="#332c2c"/><polygon points="1480.9,227 1483.5,227 1498.4,248 1495.8,248" fill="#241e1e"/><polygon points="1505.9,215 1508.1,215 1508.1,227 1505.9,227" fill="#332c2c"/><polygon points="1505.7,227 1508.3,227 1525.6,248 1523,248" fill="#241e1e"/><polygon points="1530.6,215 1532.8,215 1532.8,227 1530.6,227" fill="#332c2c"/><polygon points="1530.4,227 1533,227 1552.8,248 1550.2,248" fill="#241e1e"/><polygon points="1555.4,215 1557.6,215 1557.6,227 1555.4,227" fill="#332c2c"/><polygon points="1555.2,227 1557.8,227 1580,248 1577.4,248" fill="#241e1e"/><polygon points="1580.1,215 1582.3,215 1582.3,227 1580.1,227" fill="#332c2c"/><polygon points="1579.9,227 1582.5,227 1607.3,248 1604.7,248" fill="#241e1e"/></g>
<text transform="translate(217.06,416.62) scale(1.0533,1)" font-size="27.76" font-weight="normal" font-style="normal" fill="#fff" >Disordered lattice</text>
<text transform="translate(750.77,416.62) scale(1.0496,1)" font-size="27.76" font-weight="normal" font-style="normal" fill="#fff" >Disordered lattice</text>
<text transform="translate(1290.49,416.62) scale(1.0475,1)" font-size="27.76" font-weight="normal" font-style="normal" fill="#fff" >Ordered lattice</text>
<text transform="translate(236.85,451.25) scale(0.9142,1)" font-size="26.42" font-weight="normal" font-style="normal" fill="#fff" >(</text>
<text transform="translate(246.18,449.60) scale(1.1806,1)" font-size="23.19" font-weight="normal" font-style="normal" fill="#fff" >Δ</text>
<text transform="translate(263.81,458.82) scale(0.9627,1)" font-size="17.82" font-weight="normal" font-style="normal" fill="#fff" >disorder</text>
<text transform="translate(333.32,452.17) scale(1.0907,1)" font-size="28.92" font-weight="normal" font-style="normal" fill="#fff" >=</text>
<text transform="translate(359.24,451.25) scale(1.0999,1)" font-size="26.42" font-weight="normal" font-style="normal" fill="#fff" >0.62)</text>
<text transform="translate(771.25,451.25) scale(0.9142,1)" font-size="26.42" font-weight="normal" font-style="normal" fill="#fff" >(</text>
<text transform="translate(780.58,449.60) scale(1.1806,1)" font-size="23.19" font-weight="normal" font-style="normal" fill="#fff" >Δ</text>
<text transform="translate(798.21,458.82) scale(0.9627,1)" font-size="17.82" font-weight="normal" font-style="normal" fill="#fff" >disorder</text>
<text transform="translate(867.72,452.17) scale(1.0907,1)" font-size="28.92" font-weight="normal" font-style="normal" fill="#fff" >=</text>
<text transform="translate(893.65,451.25) scale(1.0860,1)" font-size="26.42" font-weight="normal" font-style="normal" fill="#fff" >0.34)</text>
<text transform="translate(1312.15,451.25) scale(0.9142,1)" font-size="26.42" font-weight="normal" font-style="normal" fill="#fff" >(</text>
<text transform="translate(1321.48,449.60) scale(1.1806,1)" font-size="23.19" font-weight="normal" font-style="normal" fill="#fff" >Δ</text>
<text transform="translate(1339.11,458.82) scale(0.9627,1)" font-size="17.82" font-weight="normal" font-style="normal" fill="#fff" >disorder</text>
<text transform="translate(1408.62,452.17) scale(1.0907,1)" font-size="28.92" font-weight="normal" font-style="normal" fill="#fff" >=</text>
<text transform="translate(1434.59,451.25) scale(1.0464,1)" font-size="26.42" font-weight="normal" font-style="normal" fill="#fff" >0)</text>
<text transform="translate(2.11,33.00) scale(1.0299,1)" font-size="46.23" font-weight="bold" font-style="normal" fill="#000" >A</text>
<text transform="translate(3.26,427.70) scale(0.9461,1)" font-size="47.83" font-weight="bold" font-style="normal" fill="#000" >B</text>
<text transform="translate(2.99,757.64) scale(0.9197,1)" font-size="46.48" font-weight="bold" font-style="normal" fill="#000" >C</text>
<text transform="translate(837.41,780.10) scale(0.9710,1)" font-size="47.39" font-weight="bold" font-style="normal" fill="#000" >D</text>
<path d="M118.7 1231 V1221 M199.1 1231 V1225.5 M279.5 1231 V1221 M359.9 1231 V1225.5 M440.3 1231 V1221 M520.8 1231 V1225.5 M601.2 1231 V1221 M681.6 1231 V1225.5 M762 1231 V1221 M118.7 1231 H128.7 M118.7 1183.6 H124.2 M118.7 1136.2 H128.7 M118.7 1088.8 H124.2 M118.7 1041.4 H128.7 M118.7 994 H124.2 M118.7 946.5 H128.7 M118.7 899.1 H124.2 M118.7 851.7 H128.7 M118.7 804.3 H124.2 M118.7 756.9 H128.7" stroke="#000" stroke-width="3" fill="none"/>
<rect x="118.7" y="756.9" width="643.3" height="474.1" fill="none" stroke="#111" stroke-width="3.4" stroke-linejoin="miter"/>
<text transform="translate(100.87,1267.07) scale(0.9300,1)" font-size="32.96" font-weight="normal" font-style="normal" fill="#111" >33</text>
<text transform="translate(261.69,1267.07) scale(0.9300,1)" font-size="32.96" font-weight="normal" font-style="normal" fill="#111" >35</text>
<text transform="translate(422.14,1267.07) scale(0.9300,1)" font-size="32.96" font-weight="normal" font-style="normal" fill="#111" >37</text>
<text transform="translate(583.57,1267.07) scale(0.9300,1)" font-size="32.96" font-weight="normal" font-style="normal" fill="#111" >39</text>
<text transform="translate(741.71,1267.40) scale(0.9300,1)" font-size="33.91" font-weight="normal" font-style="normal" fill="#111" >41</text>
<text transform="translate(59.43,1239.67) scale(1.0400,1)" font-size="33.38" font-weight="normal" font-style="normal" fill="#111" >0.0</text>
<text transform="translate(59.78,1144.85) scale(1.0400,1)" font-size="33.38" font-weight="normal" font-style="normal" fill="#111" >0.2</text>
<text transform="translate(59.09,1050.03) scale(1.0400,1)" font-size="33.38" font-weight="normal" font-style="normal" fill="#111" >0.4</text>
<text transform="translate(59.61,955.21) scale(1.0400,1)" font-size="33.38" font-weight="normal" font-style="normal" fill="#111" >0.6</text>
<text transform="translate(59.43,860.39) scale(1.0400,1)" font-size="33.38" font-weight="normal" font-style="normal" fill="#111" >0.8</text>
<text transform="translate(59.43,765.57) scale(1.0400,1)" font-size="33.38" font-weight="normal" font-style="normal" fill="#111" >1.0</text>
<path d="M970.3 1227 V1217 M1050.5 1227 V1221.5 M1130.7 1227 V1217 M1210.9 1227 V1221.5 M1291.2 1227 V1217 M1371.4 1227 V1221.5 M1451.6 1227 V1217 M1531.8 1227 V1221.5 M1612 1227 V1217 M970.3 1227 H980.3 M970.3 1179.8 H975.8 M970.3 1132.6 H980.3 M970.3 1085.3 H975.8 M970.3 1038.1 H980.3 M970.3 990.9 H975.8 M970.3 943.7 H980.3 M970.3 896.5 H975.8 M970.3 849.2 H980.3 M970.3 802 H975.8 M970.3 754.8 H980.3" stroke="#000" stroke-width="3" fill="none"/>
<rect x="970.3" y="754.8" width="641.7" height="472.2" fill="none" stroke="#111" stroke-width="3.4" stroke-linejoin="miter"/>
<text transform="translate(952.47,1263.07) scale(0.9300,1)" font-size="32.96" font-weight="normal" font-style="normal" fill="#111" >33</text>
<text transform="translate(1112.89,1263.07) scale(0.9300,1)" font-size="32.96" font-weight="normal" font-style="normal" fill="#111" >35</text>
<text transform="translate(1272.94,1263.07) scale(0.9300,1)" font-size="32.96" font-weight="normal" font-style="normal" fill="#111" >37</text>
<text transform="translate(1433.97,1263.07) scale(0.9300,1)" font-size="32.96" font-weight="normal" font-style="normal" fill="#111" >39</text>
<text transform="translate(1590.81,1263.40) scale(0.9300,1)" font-size="33.91" font-weight="normal" font-style="normal" fill="#111" >41</text>
<text transform="translate(911.08,1235.67) scale(1.0400,1)" font-size="33.38" font-weight="normal" font-style="normal" fill="#111" >0.0</text>
<text transform="translate(911.43,1141.23) scale(1.0400,1)" font-size="33.38" font-weight="normal" font-style="normal" fill="#111" >0.2</text>
<text transform="translate(910.74,1046.79) scale(1.0400,1)" font-size="33.38" font-weight="normal" font-style="normal" fill="#111" >0.4</text>
<text transform="translate(911.26,952.35) scale(1.0400,1)" font-size="33.38" font-weight="normal" font-style="normal" fill="#111" >0.6</text>
<text transform="translate(911.08,857.91) scale(1.0400,1)" font-size="33.38" font-weight="normal" font-style="normal" fill="#111" >0.8</text>
<text transform="translate(911.08,763.47) scale(1.0400,1)" font-size="33.38" font-weight="normal" font-style="normal" fill="#111" >1.0</text>
<path d="M118 917.2 L119.5 915.1 L121 913.9 L122.5 913.1 L124 911.9 L125.5 910.3 L127 909.1 L128.8 909.1 L130.5 909 L132.2 909.1 L134 909.3 L135.8 909.4 L137.5 909.4 L139.2 909.7 L141 908.9 L142.7 907.7 L144.3 907.9 L146 907.2 L147.7 906.1 L149.3 905.6 L151 905 L152.8 904.6 L154.5 904.2 L156.2 904 L158 904 L159.8 904.2 L161.5 903.8 L163.2 903.6 L165 903.8 L166.4 902.8 L167.9 901.8 L169.3 900.1 L170.7 898.2 L172.1 897.8 L173.6 897.5 L175 896.8 L176.5 897.8 L178 898.1 L179.5 898.2 L181 898.8 L182 900.2 L183 901.2 L184 902.9 L185 905.6 L186 906.8 L187 907.4 L188 908.2 L189 908.8 L190.7 909 L192.3 909.2 L194 908.9 L195.7 908.9 L197.3 909 L199 909.1 L200.7 910 L202.4 911.3 L204.1 911.7 L205.9 911 L207.6 910.7 L209.3 911.5 L211 912.2 L212.6 911.7 L214.2 911.6 L215.8 911.4 L217.4 910.4 L219 909.6 L220 911.1 L221 912.4 L222 913.7 L223 915.1 L224 916.5 L225 917.2 L226 917.9 L227 919.3 L228.3 920.4 L229.7 921.4 L231 923.1 L232.3 924.2 L233.7 924.7 L235 926.1 L236.7 925.7 L238.3 925.1 L240 924.2 L241.7 923.1 L243.3 922.5 L245 921.8 L246.7 922.3 L248.3 922.9 L250 923.4 L251.7 924.1 L253.3 925.6 L255 927 L256.6 926.7 L258.2 926.1 L259.8 925.4 L261.4 924.9 L263 925.3 L264.1 926.8 L265.3 927.4 L266.4 928.9 L267.6 930.6 L268.7 931.7 L269.9 933.2 L271 935 L272.5 936.6 L274 937.7 L275.5 938.6 L277 939.4 L278.1 938.1 L279.3 936.8 L280.4 935.4 L281.6 934.2 L282.7 933.6 L283.9 932.7 L285 931.1 L286.7 931.8 L288.3 932.8 L290 933.6 L291.7 934.6 L293.3 935 L295 935 L296.5 934.6 L298 934.7 L299.5 934.6 L301 934 L302.5 933 L304 931.8 L305.5 931 L307 930.8 L308.4 931.8 L309.9 932.5 L311.3 932.9 L312.7 933.7 L314.1 934.9 L315.6 935.6 L317 936.6 L318 935.8 L319 934.6 L320 932.9 L321 931 L322 929.3 L323 928 L324 926.8 L325 925.8 L326.2 924.9 L327.4 923.3 L328.6 921.6 L329.8 920.8 L331 920.3 L332.7 920.5 L334.3 920.7 L336 921.1 L337.7 921.5 L339.3 921.9 L341 922.5 L342.4 920.8 L343.9 918.7 L345.3 918.8 L346.7 918.8 L348.1 916.9 L349.6 915.8 L351 915.3 L352.7 915.8 L354.3 916.1 L356 915.7 L357.7 915.9 L359.3 916.8 L361 917.2 L362 916 L363 915.3 L364 914.2 L365 912.6 L366 911.2 L367 910 L368 908.5 L369 907.2 L370 906.2 L371 905.1 L372.7 905.7 L374.3 906.2 L376 906.4 L377.7 907 L379.3 908.2 L381 909.4 L382.7 909 L384.3 908.6 L386 907.4 L387.7 905.4 L389.3 904.2 L391 903.7 L392.7 904.3 L394.4 904.6 L396.1 905.1 L397.9 906.2 L399.6 907 L401.3 907.5 L403 907.8 L404.3 906 L405.7 904.5 L407 904 L408.3 903.3 L409.7 902.6 L411 902.1 L412.3 901.3 L413.7 900.5 L415 899.4 L416.4 900.1 L417.9 901.1 L419.3 901.6 L420.7 902.1 L422.1 903.3 L423.6 904 L425 904.5 L426.7 904.6 L428.3 904.7 L430 904.6 L431.7 904.2 L433.3 903.1 L435 902.5 L436.7 904 L438.3 905 L440 905.1 L441.7 905.5 L443.3 905.8 L445 905.8 L446.7 905.3 L448.3 904.4 L450 903.4 L451.7 903.2 L453.3 903.1 L455 902.9 L457 902.9 L459 902.2 L461 902.5 L462.2 904.4 L463.5 905.7 L464.8 906.4 L466 907.4 L467.2 908.7 L468.5 909.8 L469.8 911.3 L471 913.1 L472.6 912.3 L474.2 911.1 L475.8 910.3 L477.4 910.5 L479 910.4 L480.5 911 L482 911.5 L483.5 911.7 L485 912.2 L486.5 913 L488 913.4 L489.5 913.7 L491 914.4 L492.6 914.3 L494.2 913.7 L495.8 912.4 L497.4 911.4 L499 910.2 L500.5 911.6 L502 914.2 L503.5 915.6 L505 916.4 L506.3 917.2 L507.7 918.5 L509 919.5 L510.3 919.4 L511.7 920.2 L513 921.5 L514.5 921 L516 920.4 L517.5 919.1 L519 917.8 L520.7 918 L522.4 918.7 L524.1 919.1 L525.9 919.2 L527.6 918.9 L529.3 918.3 L531 918.3 L532.7 917.6 L534.3 916.4 L536 915.6 L537.7 915.2 L539.3 914.3 L541 913.3 L542.3 914.7 L543.7 916.4 L545 917.1 L546.3 917.5 L547.7 918.5 L549 919.7 L550.6 919.4 L552.2 918.8 L553.8 919 L555.4 920 L557 920.2 L558.6 918.6 L560.2 917.5 L561.8 916.1 L563.4 914.6 L565 913.9 L566.6 915.2 L568.2 916.5 L569.8 917.3 L571.4 917.6 L573 918.2 L574.7 917.9 L576.3 917.7 L578 918.3 L579.7 918.5 L581.3 917.9 L583 918.2 L584.1 919.7 L585.3 920.6 L586.4 921.7 L587.6 922.5 L588.7 922.9 L589.9 923.4 L591 924.5 L592.4 926.3 L593.9 928.3 L595.3 929 L596.7 928.9 L598.1 929.8 L599.6 931.2 L601 932 L602.6 933.5 L604.2 934.6 L605.8 934.9 L607.4 935.5 L609 936.3 L610.3 937.5 L611.7 939.5 L613 941.4 L614.3 942.5 L615.7 943.1 L617 943.8 L618.7 944.2 L620.3 944.6 L622 945.5 L623.7 947.3 L625.3 948.4 L627 948.4 L628.7 948.2 L630.3 948.7 L632 949.7 L633.7 950.4 L635.3 950.8 L637 951.8 L638.7 952.4 L640.3 952.8 L642 953 L643.7 952.8 L645.3 953.1 L647 953.6 L648.7 954 L650.4 954.2 L652.1 954.5 L653.9 954.1 L655.6 953.7 L657.3 953.6 L659 954 L660.7 954.4 L662.4 954.5 L664.1 954.7 L665.9 954.5 L667.6 953.9 L669.3 954.1 L671 954.4 L672.7 953.8 L674.3 953.2 L676 952.2 L677.7 951.3 L679.3 950.6 L681 950.1 L682.8 950.3 L684.5 950.5 L686.2 950.3 L688 949.6 L689.8 949.4 L691.5 949.4 L693.2 949.1 L695 948.8 L696.7 948.4 L698.4 948.1 L700.1 948.2 L701.9 948.6 L703.6 949.1 L705.3 949.5 L707 949.5 L708.7 949.1 L710.4 948.6 L712.1 948.3 L713.9 948.7 L715.6 948.9 L717.3 948.4 L719 948.5 L720.6 949.1 L722.2 949.1 L723.8 949.2 L725.4 950 L727 951.1 L728.5 952 L730 952 L731.5 952.2 L733 952.9 L734.5 953.7 L736 954.3 L737.5 954.9 L739 955.6 L740.7 956 L742.4 957 L744.1 957.6 L745.9 956.9 L747.6 957.1 L749.3 958.4 L751 959.1 L752.8 959.2 L754.7 959.6 L756.5 960.2 L758.3 960.7 L760.2 961 L762 960.6" fill="none" stroke="#3c48a0" stroke-width="3.3" stroke-linejoin="round" stroke-linecap="butt"  clip-path="url(#cpc)"/>
<path d="M118 853.3 L119.8 853.4 L121.6 853 L123.4 853.1 L125.2 853 L127 853.2 L128.6 853.5 L130.2 852.7 L131.8 851.9 L133.4 852 L135 851.7 L136.7 850.5 L138.3 849.3 L140 847.9 L141.7 847 L143.3 846 L145 844.6 L146.7 843.6 L148.3 843.2 L150 843.3 L151.7 843 L153.3 842.4 L155 841.5 L156.5 840.5 L158 840.3 L159.5 840.3 L161 839.6 L162.5 838.4 L164 837.1 L165.5 836.2 L167 835.5 L168.6 835 L170.2 835.4 L171.8 835.9 L173.4 835.4 L175 835.8 L176.7 836.2 L178.3 835.9 L180 836.2 L181.7 836.6 L183.3 836.6 L185 835.9 L186.7 835 L188.3 834.5 L190 834.2 L191.7 834.1 L193.3 834.1 L195 833.8 L196.6 832.3 L198.2 831.3 L199.8 830.7 L201.4 830.6 L203 830.7 L204.6 829 L206.2 827.9 L207.8 828 L209.4 827.1 L211 825.6 L212.7 825.6 L214.4 825.5 L216.1 825 L217.9 825.1 L219.6 825 L221.3 824.6 L223 824.6 L224.7 825.6 L226.4 825.3 L228.1 824.5 L229.9 825.3 L231.6 825.7 L233.3 825 L235 824.8 L236.7 824.7 L238.3 824.7 L240 823.9 L241.7 822.8 L243.3 822.2 L245 821.7 L246.7 821.8 L248.3 822.6 L250 823.3 L251.7 821.8 L253.3 821 L255 822.8 L256.7 824.1 L258.3 824.3 L260 824.3 L261.7 824.5 L263.3 825.1 L265 825.4 L266.6 825.2 L268.2 825.9 L269.8 827.2 L271.4 827.1 L273 827.1 L274.7 828.1 L276.3 827.8 L278 826.5 L279.7 826.2 L281.3 826.5 L283 826.2 L284.6 825.1 L286.2 824.6 L287.8 824.8 L289.4 824.9 L291 823.6 L292.7 823 L294.3 823.6 L296 823.9 L297.7 824 L299.3 823.9 L301 823.1 L302.7 822.3 L304.3 821.5 L306 820.9 L307.7 821.3 L309.3 821.4 L311 820.3 L312.7 820.1 L314.3 820.1 L316 820.2 L317.7 820.5 L319.3 820.9 L321 821.2 L322.7 821.2 L324.3 821.3 L326 822.2 L327.7 822.4 L329.3 821.5 L331 821.3 L332.7 822.4 L334.3 823 L336 822.2 L337.7 821.6 L339.3 821.8 L341 821.9 L342.7 822.3 L344.3 823.1 L346 823.8 L347.7 824.3 L349.3 824.6 L351 824.4 L352.6 824.2 L354.2 824.8 L355.8 825.9 L357.4 826.9 L359 827 L360.6 826.5 L362.2 826.8 L363.8 826.9 L365.4 826.2 L367 825.5 L368.7 826 L370.3 826.7 L372 826.7 L373.7 826.3 L375.3 826.6 L377 826.5 L378.7 826.4 L380.3 826.9 L382 826.5 L383.7 825.4 L385.3 825.2 L387 825 L388.3 825.7 L389.7 826.8 L391 827.7 L392.3 828.2 L393.7 829.8 L395 831.5 L396.5 831.8 L398 831.9 L399.5 832.7 L401 833.7 L402.6 833.7 L404.2 833.6 L405.8 832.8 L407.4 831.8 L409 831.6 L410.5 833 L412 833.8 L413.5 835.1 L415 836.2 L416.5 837.8 L418 839.7 L419.5 840.9 L421 841.5 L422.7 840.1 L424.3 840 L426 842 L427.7 842.8 L429.3 842.6 L431 842.3 L432.5 842.9 L434 844.2 L435.5 845.8 L437 847.7 L439 848.3 L441 848.3 L442.7 847.9 L444.3 847.5 L446 847.5 L447.7 847.8 L449.3 848.1 L451 848.3 L452.3 849.6 L453.7 851.1 L455 852.2 L455.9 853.4 L456.7 855.1 L457.6 856.9 L458.4 858.3 L459.3 859.5 L460.1 860.8 L461 861.5 L462.3 861.8 L463.7 863.2 L465 865.3 L466.3 866.4 L467.7 867.2 L469 869.3 L470.2 870.7 L471.4 871 L472.6 872.1 L473.8 873.7 L475 874.6 L475.9 875.4 L476.7 877.2 L477.6 879.9 L478.4 882.1 L479.3 883 L480.1 883.4 L481 884.6 L482.5 885.6 L484 886.1 L485.5 887.6 L487 889.9 L488.5 891.1 L490 892.1 L491.5 893.2 L493 893.7 L493.8 895.4 L494.6 897.1 L495.4 898.7 L496.2 900.5 L497 902.1 L497.4 903.6 L497.9 905.7 L498.3 907.5 L498.8 908.7 L499.2 910.2 L499.7 911.7 L500.1 912.9 L500.6 914.4 L501 915.9 L501.6 917.7 L502.1 919 L502.7 920.5 L503.3 922.9 L503.9 925.2 L504.4 927.1 L505 928.5 L506.2 928.9 L507.4 929.8 L508.6 931.5 L509.8 932.7 L511 933.6 L511.8 935.6 L512.5 936.9 L513.2 937.9 L514 939.4 L514.8 940.5 L515.5 942.1 L516.2 943.9 L517 945.1 L517.4 946.6 L517.8 948.4 L518.2 950.4 L518.6 952 L519 953.2 L519.4 954.5 L519.8 956.6 L520.2 959.1 L520.6 960.1 L521 961.1 L521.7 963.6 L522.3 965.7 L523 967.1 L523.7 968.8 L524.3 969.8 L525 971.7 L526 974 L527 975.7 L528 976.5 L529 976.3 L530 977.2 L531 979 L532 980.6 L532.9 982.2 L533.9 984.2 L534.8 986.8 L535.8 988.9 L536.5 990.2 L537.1 991.5 L537.8 992.9 L538.5 994.6 L539.1 996.5 L539.8 998.4 L540.4 999.9 L540.9 1001.8 L541.5 1004.1 L542.1 1005.9 L542.7 1007.8 L543.2 1009.2 L543.8 1009.4 L544.8 1010.6 L545.8 1012.9 L546.8 1014.4 L547.8 1015.5 L548.8 1016.9 L550.4 1015.7 L552 1014.4 L553.6 1013.5 L555.2 1012.7 L556.8 1011.2 L558.5 1011.9 L560.1 1013.9 L561.8 1014.9 L563 1015.1 L564.2 1016.5 L565.4 1018.6 L566.6 1020.2 L567.8 1021.6 L569.1 1020.4 L570.5 1018.5 L571.8 1016.3 L572.7 1015.1 L573.5 1014.2 L574.4 1012.8 L575.2 1011.9 L576.1 1010.8 L576.9 1009.3 L577.8 1007.7 L579.8 1007.2 L581.8 1006.8 L583.7 1006.5 L585.7 1006.1 L587.7 1006.3 L589.7 1007 L590.8 1005.7 L592 1004.7 L593.1 1004.4 L594.3 1003.6 L595.4 1002.6 L596.6 1002.1 L597.7 1001.2 L599.7 1001.2 L601.7 1000.5 L602.5 1001.6 L603.3 1003.8 L604.1 1005.7 L604.9 1007.2 L605.7 1008.8 L606.6 1010.2 L607.4 1011.2 L608.3 1012.3 L609.1 1012.8 L610 1013.5 L610.8 1016.1 L611.7 1018.2 L613.3 1017 L614.9 1016.3 L616.5 1015.4 L618.1 1014.4 L619.7 1014 L621.2 1015.1 L622.7 1016.1 L624.2 1017.7 L625.7 1019.5 L627.2 1020.4 L628.7 1021.2 L630.2 1023.2 L631.7 1025.1 L633.2 1023.2 L634.7 1020.5 L636.2 1018.5 L637.7 1017.1 L638.7 1016.3 L639.7 1015.1 L640.7 1012.6 L641.7 1010.9 L643.7 1011.5 L645.7 1011.5 L647.7 1010.7 L648.9 1008.7 L650.1 1006.9 L651.3 1006.4 L652.5 1006.1 L653.7 1005.6 L654.2 1004 L654.7 1000.9 L655.2 998.7 L655.7 998 L656.2 996.8 L656.7 995.4 L657.2 994.3 L657.7 992.9 L658.5 991.7 L659.3 989.5 L660.1 986.6 L660.9 985.7 L661.7 985 L662.4 982.4 L663 980.1 L664 978.6 L665 977.4 L666 977 L667 975.6 L668 973.9 L669 972.3 L670 970.3 L671 969.2 L671.9 968.6 L672.7 966.8 L673.6 965 L674.4 964 L675.3 963.2 L676.1 962.2 L677 960.5 L677.6 958.1 L678.2 956.1 L678.8 954.7 L679.4 953.6 L680 952.9 L680.6 951.8 L681.2 949.9 L681.8 947.5 L682.4 945.6 L683 944.1 L683.8 942.5 L684.6 940.6 L685.4 938.6 L686.2 937.9 L687 937.2 L688.6 935.2 L690.2 933.7 L691.8 933.8 L693.4 934.1 L695 933 L696 930.4 L697 928.4 L698 926.9 L699 925.3 L699.6 923.8 L700.1 921.8 L700.7 919.6 L701.3 918.1 L701.9 916.7 L702.4 914.7 L703 913.2 L703.6 912.8 L704.1 911.6 L704.7 908.9 L705.3 906.8 L705.9 905.3 L706.4 903.3 L707 901.7 L707.8 900.7 L708.6 898.6 L709.4 896.7 L710.2 895.4 L711 894.1 L712.6 894.2 L714.2 894.6 L715.8 894.7 L717.4 894 L719 892.7 L719.9 890.5 L720.7 889 L721.6 887.5 L722.4 886.5 L723.3 885.5 L724.1 883.7 L725 881.5 L726 879.8 L727 878.6 L728 877.1 L729 875.2 L730 874.1 L731 872.8 L733 872.6 L735 872.9 L736 875 L737 877.5 L738 879.2 L739 880.4 L740.3 878.9 L741.7 877.5 L743 875.6 L743.4 873.5 L743.9 872.6 L744.3 871.2 L744.8 869.2 L745.2 868.3 L745.7 866.7 L746.1 864.2 L746.6 862.7 L747 861.5 L747.8 860.1 L748.5 858.6 L749.2 856.7 L750 855.5 L750.8 854.7 L751.5 853.4 L752.2 851.6 L753 850 L754.5 850.9 L756 851.8 L757.5 853.5 L759 854.6 L760 855.3 L761 856.5 L762 857.3" fill="none" stroke="#e8101c" stroke-width="3.3" stroke-linejoin="round" stroke-linecap="butt"  clip-path="url(#cpc)"/>
<path d="M118 844 L119.6 844.4 L121.2 844.7 L122.8 845.3 L124.4 846 L126 846.5 L127.1 845.1 L128.2 843.4 L129.4 841.9 L130.5 840.5 L131.6 839.2 L132.8 838.2 L133.9 837.3 L135 836.2 L136.5 835.5 L138 834.9 L139.5 833.3 L141 831.5 L143 830.9 L145 830.3 L147 829.8 L148.4 829.4 L149.9 828 L151.3 826.7 L152.7 826.2 L154.1 825.4 L155.6 824.1 L157 823.3 L158.4 824.5 L159.9 825.7 L161.3 826.8 L162.7 828.2 L164.1 829.4 L165.6 829.8 L167 830.4 L168.1 829.6 L169.3 828.5 L170.4 827.2 L171.6 825.9 L172.7 824.1 L173.9 822.6 L175 821.5 L176.4 820.6 L177.9 819.9 L179.3 819.5 L180.7 818.8 L182.1 817.7 L183.6 816.9 L185 816.4 L186.5 815.6 L188 814.9 L189.5 814.3 L191 813.3 L192.5 812.8 L194 812.4 L195.5 811.5 L197 810.8 L198.4 811.7 L199.9 812.4 L201.3 813 L202.7 814.1 L204.1 815.4 L205.6 816.3 L207 817.3 L209 816.9 L211 816.3 L213 816.1 L214.1 814.8 L215.2 813.1 L216.3 811.5 L217.4 810.5 L218.6 809.6 L219.7 808.4 L220.8 807.3 L221.9 806 L223 804.7 L224.3 803.4 L225.7 801.7 L227 800.1 L228.3 799.1 L229.7 798.8 L231 798.4 L232.7 798.4 L234.3 797.7 L236 797.4 L237.7 797.8 L239.3 797.4 L241 797.2 L242.7 797.7 L244.3 798 L246 797.9 L247.7 797.5 L249.3 797.6 L251 798.2 L252.6 797.2 L254.2 796 L255.8 795.2 L257.4 794.1 L259 792.8 L260.1 791.4 L261.2 790.4 L262.3 789.6 L263.4 788.5 L264.6 787 L265.7 785.7 L266.8 784.7 L267.9 783.5 L269 782.1 L271 782.2 L273 782.6 L275 783.4 L276.2 784.6 L277.5 786.2 L278.8 788.1 L280 789.1 L281.2 789.7 L282.5 790.5 L283.8 791.6 L285 793.2 L286.7 792.3 L288.3 791.5 L290 791 L291.7 790.2 L293.3 789.1 L295 788.4 L296.6 788.6 L298.2 788 L299.8 787.3 L301.4 787.3 L303 787.2 L304.3 785.9 L305.6 784.7 L306.9 783.7 L308.1 782.6 L309.4 781 L310.7 779.6 L312 778.4 L313.4 779 L314.8 779.8 L316.2 780.8 L317.6 781.5 L319 782 L319.8 783.3 L320.5 784.7 L321.2 786.4 L322 788.5 L322.8 790.6 L323.5 792.8 L324.2 794.1 L325 794.7 L326.6 794.5 L328.2 795 L329.8 794.5 L331.4 793.9 L333 793.7 L334.3 794.5 L335.7 795.3 L337 796.4 L338.3 798.1 L339.7 799.8 L341 800.5 L342.3 801.5 L343.7 802.8 L345 803.3 L346.7 803.2 L348.3 803.6 L350 804 L351.7 804.6 L353.3 805.1 L355 805.3 L355.9 806.6 L356.8 807.9 L357.7 808.9 L358.6 810.3 L359.4 811.6 L360.3 812.9 L361.2 814.7 L362.1 816.6 L363 818.1 L363.8 819.6 L364.5 821 L365.2 822.6 L366 823.9 L366.8 825.2 L367.5 826.9 L368.2 828.4 L369 829.9 L370.2 831.1 L371.5 832.1 L372.8 833.6 L374 835.1 L375.2 835.9 L376.5 836.9 L377.8 838.7 L379 840.1 L379.7 841.4 L380.3 842.7 L381 844.4 L381.7 846.2 L382.3 847.7 L383 849.5 L383.7 851.3 L384.3 852.4 L385 853.9 L385.5 856 L385.9 857.5 L386.4 858.6 L386.8 859.9 L387.3 861.3 L387.8 863 L388.2 864.6 L388.7 866.1 L389.2 867.9 L389.6 869.9 L390.1 871.3 L390.5 872.7 L391 874.5 L391.3 876.3 L391.7 877.7 L392 878.6 L392.3 880 L392.7 882.3 L393 884.1 L393.3 885.6 L393.7 887.4 L394 888.8 L394.3 890.7 L394.7 892.6 L395 893.9 L395.2 895.8 L395.5 898.1 L395.8 899.7 L396 901 L396.2 902.2 L396.5 903.5 L396.8 904.9 L397 906.2 L397.2 908.1 L397.5 910.1 L397.8 911.8 L398 913.5 L398.2 915.2 L398.5 916.4 L398.8 918.1 L399 919.9 L399.2 921.6 L399.5 923.6 L399.8 925.4 L400 926.7 L400.2 928.7 L400.5 930.5 L400.8 931.5 L401 932.5 L401.2 933.9 L401.5 936.1 L401.8 938.1 L402 939.2 L402.2 940.8 L402.5 942.9 L402.8 945 L403 946.2 L403.1 947.1 L403.3 948.9 L403.4 950.9 L403.6 952.4 L403.7 953.7 L403.9 955.4 L404 957.2 L404.1 959.1 L404.3 960.8 L404.4 962.2 L404.6 963.8 L404.7 965.5 L404.9 966.8 L405 968.2 L405.1 969.9 L405.3 971.7 L405.4 973 L405.6 974.7 L405.7 977 L405.9 979.1 L406 980.5 L406.2 981.8 L406.4 983.4 L406.6 985 L406.8 986.8 L407 988.5 L407.2 989.8 L407.4 991 L407.6 992.4 L407.8 994.3 L408 995.9 L408.2 997.1 L408.4 998.4 L408.6 999.8 L408.8 1001.7 L409 1003.4 L409.2 1004.9 L409.4 1007.3 L409.6 1009.2 L409.8 1010.1 L410 1011.1 L410.4 1012.7 L410.9 1014.6 L411.3 1017 L411.7 1019.3 L412.1 1020.7 L412.6 1022.6 L413 1024.4 L413.6 1025.6 L414.1 1027.3 L414.7 1029.2 L415.3 1031 L415.9 1033.3 L416.4 1035.2 L417 1036.2 L418 1037.1 L419 1038.8 L420 1040.1 L421 1038.4 L422 1037.2 L423 1036.1 L423.6 1034.7 L424.1 1033 L424.7 1030.7 L425.3 1028.3 L425.9 1027 L426.4 1026 L427 1024.1 L427.4 1022.5 L427.8 1021.5 L428.1 1020 L428.5 1017.9 L428.9 1015.5 L429.2 1013.1 L429.6 1011.6 L430 1010.2 L430.4 1008.6 L430.8 1007.1 L431.1 1005.8 L431.5 1003.7 L431.9 1001.2 L432.2 999.6 L432.6 997.9 L433 996.3 L433.2 995.2 L433.4 993.8 L433.6 991.8 L433.8 989.5 L434 987.6 L434.2 986.4 L434.4 984.8 L434.6 982.9 L434.8 981.5 L435 980.1 L435.3 978.3 L435.7 976.6 L436 975.5 L436.3 974.4 L436.7 972.2 L437 970.1 L437.2 968.6 L437.3 966.4 L437.5 964 L437.6 962.2 L437.8 961 L438 960 L438.1 958.1 L438.3 956.1 L438.4 954.9 L438.6 953.3 L438.8 951.6 L438.9 950.1 L439.1 949 L439.2 947.4 L439.4 945.6 L439.6 944.2 L439.7 942.8 L439.9 941.1 L440 939.1 L440.2 937.4 L440.4 936.4 L440.5 934.8 L440.7 932.7 L440.8 931.1 L441 930.3 L441.2 929.1 L441.3 927.5 L441.5 926 L441.6 924 L441.8 922.1 L442 920.6 L442.1 918.8 L442.3 916.7 L442.4 915.4 L442.6 914 L442.8 911.9 L442.9 910.5 L443.1 909.6 L443.2 908.4 L443.4 906.6 L443.6 904.8 L443.7 903.1 L443.9 900.7 L444 898.9 L444.2 898.1 L444.4 896.5 L444.5 894.5 L444.7 893.3 L444.8 892 L445 890.1 L445.3 887.9 L445.7 885.7 L446 884 L446.3 882.8 L446.7 881.3 L447 879.5 L447.3 878.1 L447.7 876.6 L448 874.5 L448.3 873.1 L448.7 872 L449 869.9 L449.3 868.1 L449.7 866.5 L450 864.7 L450.3 863.3 L450.7 861.3 L451 859.2 L451.3 857.5 L451.7 855.9 L452 854.6 L452.3 853.4 L452.7 851.9 L453 850.5 L453.4 848.6 L453.8 846.4 L454.2 844.8 L454.6 843.2 L455 841.7 L455.4 840.3 L455.8 838.9 L456.2 836.9 L456.6 834.8 L457 833.4 L457.4 832.4 L457.8 831.2 L458.2 829.3 L458.6 827.4 L459 826 L459.4 824.4 L459.8 822.4 L460.2 820.8 L460.6 819.4 L461 817.8 L461.9 816.3 L462.7 814.8 L463.6 813.3 L464.4 812 L465.3 811.1 L466.1 809.3 L467 807.2 L467.9 809.1 L468.7 811 L469.6 812.3 L470.4 813.1 L471.3 814.5 L472.1 816.6 L473 817.8 L473.6 818.8 L474.1 821.1 L474.7 823.5 L475.3 824.9 L475.9 825.9 L476.4 827.8 L477 830.2 L479 830.7 L481 830.5 L483 830.1 L485 829.4 L487 828.7 L487.9 829.6 L488.8 830.7 L489.7 832.1 L490.6 834 L491.4 835.9 L492.3 837.3 L493.2 838.8 L494.1 840.1 L495 841 L495.8 839.7 L496.6 839 L497.4 837.7 L498.2 836.4 L499 835.3 L499.3 833.2 L499.7 831 L500 829.2 L500.3 827.9 L500.7 826.3 L501 823.6 L501.3 821.3 L501.7 820.1 L502 818.7 L502.3 817.2 L502.7 815.9 L503 814.3 L503.4 812.4 L503.8 811 L504.2 810.1 L504.5 808.8 L504.9 806.7 L505.3 804.6 L505.7 802.8 L506.1 800.5 L506.5 798.8 L506.8 798.2 L507.2 796.9 L507.6 795.2 L508 793.8 L509.8 794.5 L511.5 794.8 L513.2 795.4 L515 796.3 L517 796.7 L519 796.5 L521 796.9 L521.5 795.8 L522 793.8 L522.5 791.9 L523 790.7 L523.5 789.2 L524 788.1 L524.5 787.1 L525 785.2 L525.5 782.9 L526 781.2 L526.5 779.8 L527 778.3 L528.3 776.7 L529.7 775.2 L531 774.3 L532.5 776.2 L534 777.9 L535.5 779.2 L537 780.2 L538.2 778.5 L539.4 777.1 L540.6 776.2 L541.8 775.6 L543 774.3 L543.7 772.3 L544.5 771.1 L545.2 769.8 L545.9 768.4 L546.6 766.9 L547.4 765.1 L548.1 763.5 L548.8 762 L549.5 760.4 L550.3 759.2 L551 758.3 L552.3 759.7 L553.7 760.4 L555 761.8 L555.7 764.2 L556.3 765.8 L557 767.2 L557.7 769.2 L558.3 771 L559 771.8 L560 772.4 L561 774.2 L562 775.9 L563 777.4 L564 779 L565 780.2 L566.5 780.9 L568 781.9 L569.5 783 L571 784.1 L571.8 785.8 L572.6 787.4 L573.4 789 L574.2 790.3 L575 791.4 L575.4 793.2 L575.9 795.1 L576.3 796.8 L576.8 798.7 L577.2 800.2 L577.7 801.5 L578.1 803.2 L578.6 804.7 L579 806.4 L579.5 808 L580.1 809 L580.6 810.4 L581.2 812.4 L581.7 813.8 L582.3 815.3 L582.8 817.4 L583.4 819.3 L583.9 820.9 L584.5 822.7 L585 824.2 L585.5 825.5 L586.1 827.2 L586.6 828.7 L587.2 830.2 L587.7 832 L588.3 833.7 L588.8 834.7 L589.4 836.5 L589.9 838.8 L590.5 840.3 L591 841.9 L591.6 843.8 L592.1 845.2 L592.7 847 L593.3 848.9 L593.9 850.4 L594.4 852 L595 854.1 L595.4 855.8 L595.8 857.2 L596.2 858.8 L596.6 860.4 L597 861.6 L597.4 863.4 L597.8 865.7 L598.2 867.4 L598.6 868.6 L599 870.2 L599.4 872 L599.8 873.1 L600.2 874.2 L600.6 876 L601 877.9 L601.5 879.4 L602.1 880.7 L602.6 882.7 L603.2 884.9 L603.7 886.6 L604.3 888.2 L604.8 890.3 L605.4 892 L605.9 892.9 L606.5 894.4 L607 896.5 L608 898.1 L609 899.4 L610 900.6 L611 901.8 L612.5 900.9 L614 900 L615.5 898.7 L617 897.5 L618.1 896 L619.3 894.6 L620.4 893.2 L621.6 891.4 L622.7 890.2 L623.9 889.5 L625 888.4 L625.7 886.4 L626.3 884.7 L627 883.5 L627.7 882.1 L628.3 880.2 L629 878.3 L629.7 877.1 L630.3 876.1 L631 874.4 L631.4 872.1 L631.8 870 L632.2 868.5 L632.6 867.3 L633 865.9 L633.4 864.2 L633.8 862.6 L634.2 861.4 L634.6 860.3 L635 858.5 L635.4 856.6 L635.8 855 L636.2 853.5 L636.6 852.2 L637 850.8 L637.4 849.3 L637.8 847.9 L638.2 846.1 L638.6 844.4 L639 842.5 L640 840.5 L641 839 L642 838 L643 836.9 L644 835.3 L645 833.5 L646 832.2 L647 831.1 L648 829.7 L649 828.2 L650 826.8 L651 825.6 L651.9 824.1 L652.7 822.7 L653.6 821.4 L654.4 820.3 L655.3 819.3 L656.1 817.5 L657 815.4 L658.4 813.7 L659.8 812.9 L661.2 812.3 L662.6 811.3 L664 810.2 L665.3 811.2 L666.7 812.3 L668 813.4 L669.3 814.4 L670.7 815.3 L672 816.2 L673.4 815.1 L674.8 814.3 L676.2 813.6 L677.6 812.4 L679 811.7 L680.6 812.1 L682.2 811.6 L683.8 811 L685.4 810.6 L687 810.4 L688.5 811.5 L690 812.1 L691.5 812.8 L693 813.1 L694.1 811.4 L695.3 810.2 L696.4 809.6 L697.6 808.7 L698.7 806.9 L699.9 805.1 L701 803.7 L702.4 802.9 L703.8 802.1 L705.2 801.1 L706.6 800 L708 798.9 L709.3 800.1 L710.6 801.5 L711.9 802.8 L713.1 803.7 L714.4 804.4 L715.7 805.6 L717 807.1 L718.7 806.6 L720.3 806.2 L722 806.4 L723.7 806.2 L725.3 805.5 L727 804.8 L728.5 804.9 L730 805.5 L731.5 806.6 L733 807.6 L734.5 808.7 L736 809.5 L737.5 810.2 L739 810.9 L740.6 810.6 L742.2 810.2 L743.8 809.5 L745.4 809 L747 808.4 L748.5 806.8 L750 805.5 L751.5 804.8 L753 803.7 L754.6 804 L756.2 804.5 L757.8 805.7 L759.4 807.7 L761 809.2" fill="none" stroke="#111" stroke-width="3.2" stroke-linejoin="round" stroke-linecap="butt"  clip-path="url(#cpc)"/>
<path d="M969 861.9 L979 869.9 L993 881.8 L1001 889.8 L1009 903.8 L1017 915.8 L1025 935.8 L1029 947.8 L1034 967.7 L1036 981.7 L1038.9 1000 L1044.9 1030 L1048.9 1065.9 L1052.9 1101.9 L1056.9 1139.8 L1059.9 1169.8 L1062.9 1199.8 L1065.9 1217.7 L1069 1223 L1072.9 1219.7 L1074.9 1203.7 L1077.9 1149.8 L1079.9 1109.9 L1081.9 1069.9 L1083.9 1030 L1085.9 1002 L1087.9 959.7 L1089.9 939.8 L1091.8 909.8 L1094.8 873.9 L1097.8 841.9 L1100.8 829.9 L1103.8 805.9 L1106.8 799.9 L1116.8 762 L1120.8 757 L1415 757 L1440.1 760.3 L1454 763.1 L1474.9 765.2 L1488.8 768.7 L1506.9 772.1 L1522.3 776.3 L1540.4 781.2 L1554.3 786.8 L1571 790.9 L1586 796.5" fill="none" stroke="#3c48a0" stroke-width="3.2" stroke-linejoin="round" stroke-linecap="butt" stroke-dasharray="17.5 16" clip-path="url(#cpd)"/>
<path d="M969 809.9 L983 807.9 L1001 803.9 L1015 801.9 L1034.9 797.9 L1048.9 795.9 L1068.9 791.9 L1080.9 788.9 L1100.8 786 L1110.8 784 L1124.8 780 L1134.8 777 L1148.8 774 L1166.8 769 L1180.7 764 L1194.7 760 L1204.7 758 L1226.7 756.5 L1230.7 758 L1239.7 764.2 L1243.5 784 L1246.3 821.8 L1249.1 854 L1250.1 882.3 L1251 920.1 L1252.9 957.9 L1254.8 1000 L1255.7 1049.9 L1256.6 1109.9 L1257.6 1169.8 L1258.6 1219.7 L1260.5 1225 L1262.6 1201.7 L1264.6 1169.8 L1266.6 1109.9 L1268.6 1049.9 L1270.6 990 L1272.8 957.9 L1275.6 920.1 L1279.4 891.7 L1284.1 859.6 L1290.7 831.3 L1297.3 817.1 L1309.6 799.1 L1319.1 787.8 L1336.1 780.2 L1351.2 772.7 L1368.2 768 L1379.5 761.3 L1389 756.5 L1611 756.5" fill="none" stroke="#e8101c" stroke-width="3" stroke-linejoin="round" stroke-linecap="butt" stroke-dasharray="17.5 16" clip-path="url(#cpd)"/>
<path d="M969 801.2 L969.7 803 L970.3 804.6 L971 805.8 L971.7 807.2 L972.3 808.9 L973 810.9 L973.7 812.8 L974.3 814.3 L975 815.5 L975.7 816.9 L976.3 818.3 L977 819.7 L977.7 821.1 L978.3 822.5 L979 824.2 L979.7 826.1 L980.3 827.5 L981 829.1 L981.7 831 L982.3 832.2 L983 833.3 L983.7 834.8 L984.3 836.2 L985 837.7 L985.6 839.6 L986.2 841.7 L986.8 843 L987.4 844.5 L988 846.4 L988.6 848.2 L989.2 849.2 L989.8 850.9 L990.4 852.7 L991 853.8 L991.5 855.2 L991.9 857.5 L992.4 859.2 L992.8 859.7 L993.3 860.8 L993.8 862.9 L994.2 864.6 L994.7 866.1 L995.2 867.9 L995.6 869.5 L996.1 870.9 L996.5 872.5 L997 874.4 L997.4 876.2 L997.8 877.4 L998.2 878.9 L998.7 880.8 L999.1 882.3 L999.5 883.5 L999.9 885.4 L1000.3 887.4 L1000.8 888.9 L1001.2 890.4 L1001.6 892.2 L1002 893.8 L1002.3 895.1 L1002.6 896.7 L1002.9 898.9 L1003.2 900.5 L1003.6 901.8 L1003.9 903.8 L1004.2 905.4 L1004.5 907 L1004.8 909.1 L1005.1 911 L1005.4 912.4 L1005.8 914.2 L1006.1 915.7 L1006.4 916.5 L1006.7 918 L1007 919.7 L1007.2 921 L1007.4 923 L1007.7 925.3 L1007.9 927.1 L1008.1 928.2 L1008.3 929.7 L1008.6 932 L1008.8 933.8 L1009 935.2 L1009.2 936.5 L1009.4 937.5 L1009.7 938.9 L1009.9 941.2 L1010.1 943.4 L1010.3 944.8 L1010.6 946.2 L1010.8 948.1 L1011 950 L1011.2 951.7 L1011.3 953 L1011.5 953.8 L1011.6 955.1 L1011.8 957.5 L1011.9 959.7 L1012.1 961.4 L1012.2 962.7 L1012.4 964.1 L1012.6 965.7 L1012.7 966.9 L1012.9 968.4 L1013 970.3 L1013.2 972.6 L1013.3 974.7 L1013.5 976.2 L1013.7 977.6 L1013.8 979 L1014 980.4 L1014.1 981.8 L1014.3 983.1 L1014.4 984.2 L1014.6 985.9 L1014.7 988 L1014.9 990.2 L1015.2 992.1 L1015.5 993.9 L1015.9 995.4 L1016.2 996.7 L1016.5 998.6 L1016.8 1000.3 L1017.1 1001.7 L1017.5 1003.1 L1017.8 1004.3 L1018.1 1005.5 L1018.4 1007.3 L1018.7 1009 L1019.1 1010.6 L1019.4 1012.3 L1019.7 1013.7 L1020 1015.3 L1020.3 1017.7 L1020.7 1019.5 L1021 1020.4 L1021.3 1021.7 L1021.6 1023.6 L1021.9 1025.5 L1022.3 1027.1 L1022.6 1028.3 L1022.9 1029.3 L1023.3 1031.2 L1023.6 1033.5 L1024 1034.9 L1024.4 1036 L1024.7 1037.5 L1025.1 1039.1 L1025.4 1041.1 L1025.8 1043.2 L1026.2 1045 L1026.5 1046.7 L1026.9 1047.9 L1027.3 1049.1 L1027.6 1051.1 L1028 1053.3 L1028.4 1054.4 L1028.7 1055.9 L1029.1 1058 L1029.4 1059.6 L1029.8 1061.2 L1030.2 1062.8 L1030.5 1064 L1030.9 1065.6 L1031.2 1067 L1031.6 1068.3 L1031.9 1070.3 L1032.3 1072.4 L1032.6 1073.6 L1033 1074.5 L1033.3 1076.5 L1033.7 1078.9 L1034 1080.4 L1034.4 1081.7 L1034.7 1083.6 L1035.1 1084.8 L1035.4 1085.8 L1035.8 1087.7 L1036.1 1089.9 L1036.5 1091.7 L1036.8 1093 L1037.2 1094 L1037.5 1095.2 L1037.9 1096.7 L1038.2 1098.4 L1038.6 1100.2 L1038.9 1101.7 L1039.3 1103.1 L1039.7 1104.6 L1040 1106.2 L1040.4 1107.7 L1040.8 1109.3 L1041.2 1110.9 L1041.6 1112.8 L1041.9 1114.8 L1042.3 1116.3 L1042.7 1117.7 L1043.1 1119.7 L1043.5 1121.7 L1043.9 1123.3 L1044.2 1124.6 L1044.6 1125.9 L1045 1127.5 L1045.4 1129.4 L1045.8 1131.2 L1046.1 1132.7 L1046.5 1134.2 L1046.9 1135.9 L1047.3 1137.6 L1047.6 1139 L1048 1140.5 L1048.3 1142.2 L1048.7 1143.6 L1049 1145.3 L1049.4 1147.6 L1049.7 1149.8 L1050.1 1151.3 L1050.4 1152.4 L1050.8 1154 L1051.1 1156.1 L1051.5 1158 L1051.8 1159.4 L1052.2 1160.7 L1052.5 1162.1 L1052.9 1163.7 L1053.3 1165.1 L1053.8 1166.6 L1054.2 1168 L1054.6 1169.2 L1055 1171 L1055.5 1173 L1055.9 1174.7 L1056.3 1176.2 L1056.8 1177.6 L1057.2 1179.3 L1057.6 1181 L1058 1182.3 L1058.5 1184.2 L1058.9 1186.3 L1059.9 1187.5 L1060.9 1188.6 L1061.9 1190.3 L1062.9 1192.1 L1063.9 1193.9 L1065.6 1194.2 L1067.2 1194.1 L1068.9 1193.7 L1069.8 1192 L1070.6 1190.2 L1071.5 1188.7 L1072.3 1187.7 L1073.2 1186.8 L1074 1185.5 L1074.9 1184.2 L1075.3 1182.6 L1075.8 1181.1 L1076.2 1179.6 L1076.6 1177.6 L1077 1175.6 L1077.5 1174.3 L1077.9 1173.1 L1078.3 1171.2 L1078.8 1169.5 L1079.2 1168.3 L1079.6 1166.9 L1080 1165 L1080.5 1163.4 L1080.9 1162.2 L1081.2 1160.8 L1081.5 1158.9 L1081.8 1157 L1082.1 1155.4 L1082.4 1153.7 L1082.7 1151.9 L1083 1150.7 L1083.3 1149.2 L1083.6 1147.7 L1083.9 1146.5 L1084.2 1144.5 L1084.5 1142.4 L1084.8 1141 L1085.1 1139.7 L1085.4 1138.1 L1085.7 1136.2 L1086 1134.2 L1086.3 1132.5 L1086.6 1130.9 L1086.9 1129.3 L1087.1 1128 L1087.2 1126.5 L1087.4 1124.8 L1087.5 1123 L1087.7 1121.4 L1087.8 1120 L1088 1118.7 L1088.1 1117.2 L1088.3 1115.4 L1088.5 1113.8 L1088.6 1112.1 L1088.8 1110.4 L1088.9 1109.1 L1089.1 1107.3 L1089.2 1105.3 L1089.4 1104.3 L1089.6 1102.9 L1089.7 1101.2 L1089.9 1099.9 L1090 1098 L1090.2 1096 L1090.3 1094.6 L1090.5 1092.9 L1090.6 1090.7 L1090.8 1089.1 L1090.9 1087.9 L1091 1086.6 L1091.2 1085.2 L1091.3 1083.6 L1091.4 1081.7 L1091.5 1080.3 L1091.6 1079.4 L1091.8 1078 L1091.9 1075.9 L1092 1073.8 L1092.1 1071.9 L1092.2 1070.7 L1092.4 1069.6 L1092.5 1067.9 L1092.6 1065.7 L1092.7 1063.9 L1092.8 1062.4 L1093 1060.9 L1093.1 1059.5 L1093.2 1058.3 L1093.3 1056.8 L1093.4 1054.9 L1093.6 1053.1 L1093.7 1051.8 L1093.8 1050.5 L1093.9 1048.4 L1094.1 1046.5 L1094.2 1045.3 L1094.3 1044.2 L1094.5 1042.8 L1094.6 1040.5 L1094.8 1038.3 L1094.9 1036.8 L1095 1035.2 L1095.2 1033.2 L1095.3 1031.1 L1095.4 1029.5 L1095.6 1028.3 L1095.7 1026.8 L1095.8 1025.5 L1096 1024.5 L1096.1 1022.9 L1096.3 1020.9 L1096.4 1019 L1096.5 1017.2 L1096.7 1015.6 L1096.8 1014 L1096.9 1012.7 L1097 1011.1 L1097.1 1009.4 L1097.2 1007.5 L1097.3 1005.5 L1097.4 1004 L1097.5 1002.7 L1097.7 1001 L1097.8 999.4 L1097.9 997.8 L1098 996.1 L1098.1 994.6 L1098.2 993.3 L1098.3 991.8 L1098.4 990.5 L1098.6 988.8 L1098.8 987.1 L1099 985.1 L1099.2 982.7 L1099.4 981 L1099.6 979.4 L1099.8 977.8 L1100 976.6 L1100.2 975.1 L1100.4 973.5 L1100.6 971.8 L1100.8 969.8 L1100.9 968 L1101 966.5 L1101.1 965 L1101.2 963.1 L1101.4 961.1 L1101.5 959.3 L1101.6 957.8 L1101.7 956.7 L1101.8 955.2 L1101.9 953.4 L1102 951.5 L1102.1 949.6 L1102.2 948 L1102.4 946.5 L1102.5 944.5 L1102.6 943 L1102.7 942.1 L1102.8 940.6 L1102.9 938.5 L1103 936.7 L1103.1 935.2 L1103.2 933.5 L1103.4 931.6 L1103.5 929.8 L1103.6 928.5 L1103.7 926.9 L1103.8 925 L1103.9 923.1 L1104 921.3 L1104.1 919.4 L1104.2 917.8 L1104.4 916.5 L1104.5 915 L1104.6 913 L1104.7 911.1 L1104.8 909.6 L1104.9 908.4 L1105 906.7 L1105.2 904.8 L1105.3 903.2 L1105.4 901.7 L1105.5 900.1 L1105.6 898.3 L1105.8 896.5 L1105.9 895 L1106 893.6 L1106.1 892 L1106.2 890.6 L1106.4 889.1 L1106.5 887.5 L1106.6 886.1 L1106.7 884.5 L1106.8 882.6 L1107 881 L1107.1 879.2 L1107.2 877.3 L1107.3 876 L1107.4 874.4 L1107.6 872.7 L1107.7 871.3 L1107.8 869.9 L1107.9 868.4 L1108 866.7 L1108.1 864.9 L1108.2 863.4 L1108.4 861.7 L1108.5 859.8 L1108.6 858.3 L1108.7 856.9 L1108.8 855.3 L1108.9 853.5 L1109 851.9 L1109.1 850.6 L1109.2 849.1 L1109.4 846.8 L1109.5 844.7 L1109.6 843.4 L1109.7 841.4 L1109.8 839 L1109.9 837.4 L1110 836.5 L1110.1 835.4 L1110.2 833.6 L1110.4 831.8 L1110.5 830.3 L1110.6 828.3 L1110.7 826.4 L1110.8 824.9 L1110.9 823.3 L1111 821.7 L1111.1 819.7 L1111.2 817.9 L1111.4 816.6 L1111.5 815.1 L1111.6 813.2 L1111.7 811.4 L1111.8 809.8 L1112 808 L1112.2 806.2 L1112.3 804.9 L1112.5 803.4 L1112.7 801.1 L1112.9 799.2 L1113 797.8 L1113.2 796.4 L1113.4 795 L1113.6 793.7 L1113.7 792.4 L1113.9 790.6 L1114.1 788.6 L1114.3 786.5 L1114.4 784.3 L1114.6 782.8 L1114.8 781.6 L1115.1 780.3 L1115.4 778.9 L1115.7 777.5 L1116 775.8 L1116.3 774 L1116.6 772.4 L1116.9 770.8 L1117.2 769.2 L1117.5 767.7 L1117.8 766 L1118.1 764.3 L1118.5 762.8 L1118.8 761.3 L1119.1 759.5 L1119.5 758.1 L1119.8 756.9 L1121.4 756.7 L1123 756.4 L1124.6 756.2 L1126.2 756 L1127.9 756.2 L1129.5 756.4 L1131.1 756.4 L1132.7 756.5 L1134.3 756.6 L1135.9 756.4 L1137.5 756.1 L1139.1 756 L1140.7 756.1 L1142.3 756.3 L1144 756 L1145.6 755.6 L1147.2 755.7 L1148.8 755.9 L1150.4 756.1 L1152 755.7 L1153.6 755.2 L1155.2 755.7 L1156.8 756.3 L1158.4 756.2 L1160.1 756 L1161.7 756.2 L1163.3 756.5 L1164.9 756.7 L1166.5 756.5 L1168.1 756.1 L1169.7 755.9 L1171.3 756 L1172.9 756.1 L1174.5 756.1 L1176.2 756 L1177.8 755.8 L1179.4 756 L1181 756.1 L1182.6 756.1 L1184.2 756 L1185.8 755.9 L1187.4 756.1 L1189 756.2 L1190.6 756.1 L1192.3 755.9 L1193.9 755.9 L1195.5 756 L1197.1 755.9 L1198.7 755.8 L1199.7 757.4 L1200.7 758.6 L1201.7 759.7 L1202.7 760.7 L1203.7 762.1 L1204.7 763.7 L1206 764.4 L1207.4 765.1 L1208.7 766.4 L1210 767.5 L1211.4 769 L1212.7 770.5 L1214 771.1 L1215.4 771.9 L1216.7 772.9 L1218 773.7 L1219.4 774.7 L1220.7 775.8 L1222 776.5 L1223.4 777.2 L1224.7 777.9 L1226.4 777.9 L1228 778.4 L1229.7 778.9 L1231.4 779.3 L1233 779.8 L1234.7 779.8 L1236.4 779.3 L1238 779.4 L1239.7 779.8 L1241.3 780.7 L1242.8 781.8 L1244.4 782.7 L1246 783.2 L1247.5 783.6 L1249.1 784.5 L1250.4 785.9 L1251.6 787 L1252.9 788 L1254.2 789.2 L1255.4 790.2 L1256.7 791.5 L1258.2 792.4 L1259.7 792.9 L1261.3 793.5 L1262.8 794.3 L1264.3 794.7 L1265.8 793.5 L1267.2 792.6 L1268.7 792.2 L1270.2 791.3 L1271.6 789.7 L1273.1 788.8 L1274.6 788.7 L1276 788.3 L1277.5 787.7 L1279.1 788.4 L1280.7 789.3 L1282.3 790.6 L1284 791.3 L1285.6 791.7 L1287.2 791.8 L1288.8 792 L1290.1 793.3 L1291.3 794.6 L1292.6 795.8 L1293.9 797 L1295.1 798.1 L1296.4 798.9 L1298 799.5 L1299.5 800.2 L1301.1 800.7 L1302.7 801.5 L1304.2 802.7 L1305.8 803.5 L1307.7 803 L1309.6 802.5 L1311.5 801.9 L1313.4 801.7 L1315 801.6 L1316.5 801.1 L1318.1 800.4 L1319.7 800.1 L1321.2 799.9 L1322.8 799.6 L1323.9 800.9 L1324.9 801.9 L1326 802.9 L1327 804.1 L1328.1 805.1 L1329.1 806.1 L1330.2 807.1 L1331.2 808.4 L1332.3 809.9 L1333.6 811.3 L1334.8 812.4 L1336.1 813.2 L1337.3 814.5 L1338.6 816 L1339.8 817.1 L1341.1 818 L1342.3 818.8 L1343.6 820 L1345.1 819.1 L1346.6 818.1 L1348.2 817.1 L1349.7 816.5 L1351.2 816.4 L1353.1 816.1 L1355 815.2 L1356.8 814.9 L1358.7 814.6 L1360.6 814.4 L1362.5 815.6 L1364.4 816.9 L1366.3 818.1 L1367.8 817 L1369.2 815.9 L1370.7 815.4 L1372.2 814.9 L1373.6 814.2 L1375.1 813 L1376.6 811.7 L1378 810.8 L1379.5 810.2 L1380.8 809.1 L1382.1 808.1 L1383.4 806.8 L1384.8 805.5 L1386.1 804.3 L1387.4 802.9 L1388.7 801.8 L1390 801 L1391.4 799.6 L1392.8 797.9 L1394.2 796.7 L1395.6 795.7 L1397 794.7 L1398.2 794 L1399.3 793.3 L1400.5 791.9 L1401.6 790.6 L1402.8 789.6 L1403.9 788.3 L1405.1 786.8 L1406.2 785.3 L1407.4 783.9 L1408.6 782.5 L1409.7 780.6 L1410.9 779.3 L1412.6 779.3 L1414.3 778.6 L1416.1 778.1 L1417.8 777.7 L1419.2 778.2 L1420.6 778.9 L1422 779.8 L1423.4 780.7 L1424.8 781.7 L1426.2 782.5 L1427.6 783.5 L1429 784.4 L1430.3 784.8 L1431.7 785.8 L1433.1 787.4 L1434.5 788.7 L1435.5 789.5 L1436.6 790.6 L1437.7 792.2 L1438.7 793.5 L1439.8 794.4 L1440.8 795.1 L1441.9 796.2 L1442.9 797.4 L1444.1 798.7 L1445.3 800.4 L1446.5 801.7 L1447.7 802.6 L1448.9 804 L1450.1 805.6 L1451.3 806.7 L1452.7 807.3 L1454.1 808.3 L1455.4 809 L1456.8 809.5 L1458.2 810.6 L1459.6 811.9 L1461.3 812.1 L1463 812 L1464.6 812.1 L1466.3 812.4 L1468 812.8 L1469.4 814.4 L1470.8 815.8 L1472.1 816.5 L1473.5 816.8 L1474.9 818.3 L1476.3 820 L1477.7 820.6 L1479.1 821.6 L1480.5 821.3 L1481.9 820.8 L1483.3 819.4 L1484.7 818 L1486.4 818.9 L1488.2 819.7 L1489.9 820.4 L1491.6 821.2 L1493 822.3 L1494.4 823.5 L1495.8 824.5 L1497.2 825.2 L1498.6 825.5 L1500.3 825 L1502.1 825 L1503.8 825.1 L1505.6 825.3 L1507.4 825.4 L1509.3 825.4 L1511.1 826.3 L1513 827.9 L1514.8 829.2 L1516.7 830.2 L1518.6 829 L1520.4 828 L1522.3 827.1 L1523.5 825.4 L1524.6 823.9 L1525.8 823.1 L1526.9 821.7 L1528 819.9 L1529.2 818.7 L1530.2 818 L1531.3 816.6 L1532.3 815.1 L1533.4 813.7 L1534.5 812.1 L1535.5 811.1 L1536.5 810.3 L1537.6 809 L1538.6 807.4 L1539.6 805.7 L1540.6 804.6 L1541.5 803.4 L1542.5 801.9 L1543.5 800.6 L1544.5 798.9 L1545.6 797.1 L1546.7 796.1 L1547.9 794.9 L1549 793.3 L1550.1 792.1 L1552 791.3 L1553.8 790.1 L1555.7 789.4 L1557.1 790.7 L1558.5 791.4 L1559.8 792.1 L1561.2 793.2 L1562.6 792.1 L1564 791 L1565.4 790.1 L1566.1 788.3 L1566.8 786.4 L1567.5 784.8 L1568.2 783.1 L1568.7 781.5 L1569.2 779.4 L1569.8 777.6 L1570.3 776.7 L1570.8 775.3 L1571.4 773.5 L1571.9 771.7 L1572.4 770.1 L1573 768.3 L1573.5 766.6 L1574.1 765.2 L1574.6 763.4 L1575.2 761.5 L1576.1 759.7 L1577.1 757.8 L1578 756 L1579.7 756.6 L1581.3 756.7 L1583 756.1 L1584.6 756.1 L1586.2 756.3 L1587.9 756.4 L1589.5 756.4 L1591.2 756 L1592.8 755.8 L1594.5 755.7 L1596.2 755.8 L1597.8 755.9 L1599.5 755.9 L1601.1 756.2 L1602.8 756.3 L1604.4 755.9 L1606 755.8 L1607.7 756.2 L1609.3 756.5 L1611 756.4" fill="none" stroke="#3c48a0" stroke-width="3.2" stroke-linejoin="round" stroke-linecap="butt"  clip-path="url(#cpd)"/>
<path d="M969 837.9 L970.2 838.6 L971.5 839.9 L972.8 841.8 L974 843.4 L975.2 844.1 L976.5 844.9 L977.8 846.3 L979 847.8 L980 846.8 L981 845.8 L982 844.6 L983 843 L984 841.1 L985 839.8 L986 838.9 L987 838.2 L988.2 837 L989.4 835.2 L990.6 833.6 L991.8 832.1 L993 830.6 L994.3 829.7 L995.7 829 L997 828.4 L998.3 827.5 L999.7 826 L1001 824.7 L1002.3 824 L1003.7 823 L1005 821.7 L1006.3 822.8 L1007.7 824.1 L1009 825 L1010.3 826.2 L1011.7 827.2 L1013 827.9 L1014.3 829.4 L1015.7 830.4 L1017 830.7 L1018.4 829.3 L1019.8 828.5 L1021.2 827.6 L1022.7 826.4 L1024.1 825.8 L1025.5 825 L1026.9 823.6 L1028.1 822.3 L1029.2 821.2 L1030.4 820.2 L1031.6 819 L1032.7 817.7 L1033.9 816.8 L1035.1 815.6 L1036.2 814.1 L1037.4 812.7 L1038.6 811.3 L1039.7 810.2 L1040.9 809.3 L1042.5 810.5 L1044.1 811.2 L1045.7 811.9 L1047.3 812.9 L1048.9 813.7 L1050.2 814.8 L1051.6 816.2 L1052.9 816.9 L1054.2 817.5 L1055.6 818.7 L1056.9 820.4 L1058.3 820.5 L1059.7 819.8 L1061.1 818.3 L1062.5 816.9 L1063.9 815.8 L1065.3 814.9 L1066.7 814.4 L1068.1 813.9 L1069.5 813.3 L1070.9 812 L1072 810 L1073.1 808.3 L1074.1 807.3 L1075.2 806.6 L1076.3 805.4 L1077.4 803.5 L1078.4 802.2 L1079.5 801.2 L1080.6 800.1 L1081.7 798.8 L1082.7 797.4 L1083.8 795.7 L1084.9 794.3 L1086.3 795.6 L1087.7 796.8 L1089.1 797.8 L1090.5 799 L1091.8 799.7 L1093.2 800.4 L1094.6 801 L1096 801.6 L1097.4 802.9 L1098.8 804.1 L1100 803.1 L1101.3 801.7 L1102.5 800 L1103.8 798.9 L1105 797.9 L1106.3 796.4 L1107.5 795 L1108.8 793.8 L1109.9 792.8 L1111 791.4 L1112.1 789.7 L1113.2 788 L1114.3 786.8 L1115.3 786.2 L1116.4 784.9 L1117.5 783.4 L1118.6 782.1 L1119.7 781 L1120.8 780.2 L1122.8 780 L1124.8 779.4 L1125.7 781.1 L1126.6 782.9 L1127.5 784.3 L1128.4 786 L1129.3 787.8 L1130.3 789.2 L1131.2 790.7 L1132.1 791.8 L1133 793 L1133.9 794.8 L1134.8 796.2 L1136.8 796 L1138.8 796.5 L1140.8 796.6 L1141.9 794.8 L1143.1 793.4 L1144.2 792.3 L1145.4 790.7 L1146.5 789.7 L1147.7 789.1 L1148.8 788.3 L1149.9 787.2 L1151 786.1 L1152.1 784.7 L1153.2 783.1 L1154.4 781.7 L1155.5 780.5 L1156.6 779.5 L1157.7 778.6 L1158.8 777.1 L1160.4 777.6 L1162 778.7 L1163.6 779.6 L1165.2 780.7 L1166.8 782.4 L1167.6 784.3 L1168.4 785.6 L1169.2 787.1 L1170 788.4 L1170.8 789.5 L1171.6 790.9 L1172.4 792.3 L1173.2 793.4 L1174 795.1 L1174.8 797.4 L1176.5 798 L1178.1 797.7 L1179.8 797.4 L1181.4 797.4 L1183.1 797.4 L1184.8 797.9 L1186.4 798.7 L1188.1 799.1 L1189.7 799 L1191.4 798.9 L1193 798.9 L1194.7 799 L1196.5 799.4 L1198.2 799.7 L1200 800 L1200.9 801.8 L1201.9 803.3 L1202.8 804.8 L1203.8 806.6 L1204.7 808.5 L1205.8 809.6 L1206.9 810.3 L1208 811.6 L1209.1 813.3 L1210.3 814.7 L1211.4 815.9 L1212.5 817.5 L1213.6 819.1 L1214.7 820.4 L1215.8 821.7 L1216.8 822.8 L1217.9 824.1 L1218.9 825.7 L1219.9 827.1 L1220.8 828.4 L1221.8 829.9 L1222.7 831.6 L1223.3 833.3 L1224 835.1 L1224.6 836.9 L1225.2 838.5 L1225.8 840 L1226.5 841.4 L1227.1 842.9 L1227.7 844.5 L1228.3 846.1 L1229 847.5 L1229.6 848.7 L1230.2 850.3 L1230.9 852 L1231.6 853.7 L1232.2 855 L1232.9 856.2 L1233.6 857.8 L1234.3 859.4 L1235 860.9 L1235.6 862.5 L1236.3 863.7 L1237 864.8 L1237.7 866.6 L1238.3 868.2 L1239 869.5 L1239.7 870.7 L1240.1 872.2 L1240.6 874.2 L1241 875.6 L1241.5 877 L1241.9 878.6 L1242.3 880.1 L1242.8 881.9 L1243.2 883.3 L1243.6 884.4 L1244.1 886.1 L1244.5 888.6 L1245 890.5 L1245.4 891.8 L1245.7 893.6 L1245.9 895.5 L1246.2 897.1 L1246.5 898.8 L1246.7 900.4 L1247 901.9 L1247.2 903.5 L1247.5 905.2 L1247.8 906.6 L1248 907.9 L1248.3 909 L1248.6 910.3 L1248.8 912.2 L1249.1 914.3 L1249.3 916.3 L1249.5 917.5 L1249.7 918.8 L1249.9 921.1 L1250.1 923.1 L1250.3 924.6 L1250.5 926.1 L1250.6 927.7 L1250.8 929.4 L1251 931.1 L1251.2 932.3 L1251.4 933.5 L1251.6 935.1 L1251.8 936.9 L1252 938.6 L1252.2 940.4 L1252.3 942.5 L1252.5 944.2 L1252.7 945.4 L1252.8 947.1 L1253 948.7 L1253.2 950.3 L1253.3 952.2 L1253.5 953.8 L1253.6 955.5 L1253.8 957.5 L1254 959.1 L1254.1 960.2 L1254.3 961.9 L1254.5 964.2 L1254.6 966.2 L1254.8 967.7 L1254.9 969.4 L1255 971.4 L1255.1 973.3 L1255.2 974.8 L1255.3 976.1 L1255.4 977.4 L1255.5 978.8 L1255.6 980.3 L1255.7 982 L1255.8 983.7 L1255.8 985.3 L1255.9 987 L1256 988.6 L1256.1 990.2 L1256.2 991.6 L1256.3 993.1 L1256.4 995 L1256.5 997 L1256.6 998.9 L1256.7 1000.8 L1256.9 1002.4 L1257.1 1003.5 L1257.4 1004.9 L1257.6 1006.3 L1257.8 1007.9 L1258 1009.7 L1258.2 1011.8 L1258.5 1014 L1258.7 1015.7 L1258.9 1017.2 L1259.1 1018.8 L1259.3 1020.1 L1259.6 1021.6 L1259.8 1023.6 L1260 1025 L1260.5 1026.3 L1260.9 1027.9 L1261.4 1029.3 L1261.8 1031 L1262.3 1032.7 L1262.7 1034 L1263.2 1035.2 L1263.6 1036.5 L1264.1 1038.1 L1264.5 1040.3 L1265 1042.1 L1266.2 1043.7 L1267.3 1045.3 L1268.4 1046.6 L1269.6 1047.9 L1270.5 1046.3 L1271.4 1044.8 L1272.2 1043.2 L1273.1 1041.5 L1274 1040.2 L1274.3 1038.5 L1274.7 1036.7 L1275 1035 L1275.3 1033.2 L1275.7 1031.2 L1276 1029.5 L1276.3 1028.2 L1276.7 1026.6 L1277 1024.9 L1277.3 1023.6 L1277.7 1022.1 L1278 1019.6 L1278.3 1017.4 L1278.5 1015.9 L1278.8 1014.4 L1279.1 1012.9 L1279.4 1011.4 L1279.7 1010.2 L1279.9 1008.9 L1280.2 1006.7 L1280.5 1004.3 L1280.8 1002.6 L1281 1001 L1281.3 999.5 L1281.5 998.3 L1281.7 997 L1281.9 995.6 L1282 993.9 L1282.2 991.8 L1282.4 989.9 L1282.6 988.3 L1282.8 986.7 L1283 984.8 L1283.2 983.4 L1283.3 982.7 L1283.5 981.1 L1283.7 978.8 L1283.9 976.9 L1284.1 975.4 L1284.3 973.9 L1284.4 971.9 L1284.6 969.9 L1284.8 968.8 L1285 967.3 L1285.2 965.1 L1285.4 963.3 L1285.7 961.9 L1285.9 960.5 L1286.1 959.3 L1286.3 957.5 L1286.6 955.3 L1286.8 953.7 L1287 951.8 L1287.2 950.4 L1287.5 949.3 L1287.7 947.6 L1287.9 945.8 L1288.1 944.3 L1288.4 942.9 L1288.6 941.4 L1288.8 940 L1289 937.9 L1289.2 935.7 L1289.5 933.9 L1289.7 932.5 L1289.9 930.9 L1290.1 929 L1290.4 927.7 L1290.6 926.4 L1290.8 924.3 L1291 922.3 L1291.3 921 L1291.5 919.6 L1291.7 917.6 L1291.9 915.5 L1292.2 914 L1292.4 912.7 L1292.6 910.9 L1292.8 909 L1293 907.2 L1293.3 905.5 L1293.5 904.3 L1293.7 903.1 L1293.9 900.9 L1294.2 898.6 L1294.4 897 L1294.6 895.6 L1294.8 894 L1295.1 891.9 L1295.3 890.3 L1295.5 889.3 L1295.7 887.4 L1296 885.4 L1296.2 883.8 L1296.4 882 L1296.8 880.1 L1297.1 878.3 L1297.5 876.5 L1297.8 874.9 L1298.2 873.9 L1298.5 872.4 L1298.9 870.6 L1299.2 868.8 L1299.6 866.9 L1300 865.5 L1300.3 864.2 L1300.7 862.5 L1301 860.6 L1301.4 858.8 L1301.7 857.3 L1302.1 855.8 L1302.5 854.3 L1303 852.9 L1303.4 851.4 L1303.9 849.8 L1304.3 848.1 L1304.7 846.2 L1305.2 844.5 L1305.6 843.2 L1306.1 841.7 L1306.5 839.9 L1307 838.5 L1307.4 837.6 L1307.8 836.1 L1308.3 834.2 L1308.7 832.7 L1309.2 831.6 L1309.6 830.2 L1310.1 828.4 L1310.6 826.5 L1311.2 824.6 L1311.7 823 L1312.2 821.5 L1312.7 819.8 L1313.2 818.3 L1313.7 816.9 L1314.3 815.1 L1314.8 813.5 L1315.3 812.4 L1316.2 811.4 L1317.2 809.9 L1318.1 807.8 L1319.1 805.7 L1320 804.2 L1320.8 806.3 L1321.6 808.3 L1322.3 809.9 L1323.1 811.1 L1323.9 812.5 L1324.7 814.5 L1325.2 816.3 L1325.7 817.6 L1326.3 819 L1326.8 820.4 L1327.3 822.1 L1327.8 823.9 L1328.3 825.3 L1328.8 826.9 L1329.4 828.3 L1329.9 829.8 L1330.4 831.6 L1331.2 832.9 L1332.1 833.9 L1332.9 835.3 L1333.8 836.8 L1334.6 838.1 L1335.5 839.6 L1336.3 841 L1337.2 842.2 L1338 843.8 L1339.2 842.7 L1340.5 841.1 L1341.8 839.9 L1343 838.6 L1344.2 837.4 L1345.5 836.8 L1346.1 835.5 L1346.6 833.9 L1347.2 832.4 L1347.8 830.6 L1348.3 828.7 L1348.9 827.6 L1349.5 826.8 L1350.1 825.2 L1350.6 822.9 L1351.2 821.2 L1351.6 820 L1352 818.4 L1352.5 816.7 L1352.9 815.1 L1353.3 813.7 L1353.7 812 L1354.2 810 L1354.6 808.3 L1355 806.8 L1355.5 805.3 L1355.9 803.7 L1356.4 802.1 L1356.9 800.5 L1357.3 798.7 L1357.8 797 L1358.3 795.6 L1358.8 793.6 L1359.2 791.6 L1359.7 790.2 L1361.4 790.2 L1363.1 790 L1364.8 789.9 L1366.5 789.9 L1368.2 789.8 L1369.3 788.1 L1370.5 786.5 L1371.6 785.3 L1372.8 783.7 L1373.9 781.8 L1374.7 780.1 L1375.4 778.5 L1376.2 777.3 L1376.9 776.5 L1377.7 775.3 L1378.4 773.2 L1379.2 771.1 L1379.9 769.7 L1380.7 768.7 L1381.4 767.6 L1382.4 766.2 L1383.3 764.5 L1384.2 762.7 L1385.2 761.2 L1386.2 760.1 L1387.1 758.9 L1388 757.2 L1389 755.8 L1390.6 756.2 L1392.2 756.5 L1393.9 756.8 L1395.5 757 L1397.1 757.2 L1398.8 757.7 L1400.4 758 L1402 758.1 L1403.7 758.2 L1405.3 758.3 L1407 758.1 L1408.7 758 L1410.4 758.1 L1412 758.4 L1413.7 758.3 L1414.1 759.6 L1414.5 762.2 L1414.9 764.5 L1415.3 765.5 L1415.7 766.5 L1416.1 768 L1416.5 769.6 L1416.9 771.4 L1417.3 773.1 L1417.7 774.2 L1418 775.8 L1418.4 777.6 L1418.8 779.4 L1419.2 781.4 L1419.5 783 L1419.9 784.3 L1420.2 785.9 L1420.6 787.4 L1421 789.2 L1421.3 791 L1421.7 792.3 L1422 793.9 L1422.4 795.7 L1422.7 797.5 L1423.1 799.4 L1423.4 800.8 L1424 802.4 L1424.6 804.1 L1425.2 805.5 L1425.8 807.3 L1426.4 808.6 L1427 810 L1427.6 812.2 L1428.5 813.8 L1429.5 814.8 L1430.4 816 L1431.3 817.4 L1432.3 818.8 L1433.2 820.3 L1433.8 821.7 L1434.4 823 L1435 824.2 L1435.5 825.7 L1436.1 827.8 L1436.7 829.6 L1437.3 831.3 L1437.8 833 L1438.2 834.6 L1438.7 836.2 L1439.2 837.8 L1439.6 839.3 L1440.1 840.6 L1440.6 842 L1441 843.6 L1441.5 845.2 L1442 847 L1442.4 848.6 L1442.9 850.2 L1443.4 852.4 L1443.8 854.2 L1444.3 855.3 L1444.8 857 L1445.2 859.5 L1445.7 861.2 L1446.1 861.9 L1446.6 863.3 L1447 865 L1447.4 866.8 L1447.9 869.1 L1448.3 870.7 L1448.7 871.9 L1449.1 873.5 L1449.6 875.5 L1450 877 L1450.4 878.1 L1450.9 879.6 L1451.3 881.4 L1451.8 882.8 L1452.4 884.1 L1453 885.6 L1453.5 887.4 L1454 889.1 L1454.6 890.4 L1455.1 892.1 L1455.7 893.7 L1456.2 895 L1456.8 896.7 L1458 898.1 L1459.1 899.3 L1460.3 900.6 L1461.5 901.7 L1462.6 902.5 L1463.8 903.5 L1465.2 902.2 L1466.6 901.1 L1468 899.7 L1468.6 897.6 L1469.2 895.8 L1469.8 894.4 L1470.4 892.7 L1471.1 891.2 L1471.7 890.4 L1472.3 889 L1472.9 887.1 L1473.5 885.7 L1474.1 884.2 L1474.6 882.8 L1475.2 881.5 L1475.7 879.8 L1476.3 878.1 L1476.9 876.5 L1477.4 874.8 L1478 873.2 L1478.5 871.8 L1479.1 870.5 L1479.6 869.1 L1480 867.2 L1480.5 865.1 L1481 863.9 L1481.4 862.8 L1481.9 861.1 L1482.4 859.4 L1482.8 857.9 L1483.3 856.7 L1483.9 855.7 L1484.5 854 L1485.1 851.6 L1485.7 849.7 L1486.4 848.2 L1487 846.8 L1487.6 845.4 L1488.2 844.2 L1488.8 842.9 L1489.6 841.2 L1490.4 839.3 L1491.2 837.7 L1492 836.3 L1492.8 835.1 L1493.6 833.5 L1494.4 831.6 L1495.6 830.2 L1496.7 828.7 L1497.9 827.2 L1499.1 825.7 L1500.2 824.7 L1501.4 823.9 L1502.6 822.4 L1503.7 820.7 L1504.8 819.4 L1506 818.2 L1507.2 817 L1508.3 815.7 L1509.7 814.6 L1511.1 814 L1512.5 813.5 L1513.9 812.7 L1515.3 811.6 L1516.7 810.5 L1518.1 809.4 L1519.8 810.2 L1521.5 811.3 L1523.3 811.6 L1525 811.6 L1526.4 812.4 L1527.8 813.5 L1529.2 814.9 L1531 814.5 L1532.7 813.5 L1534.5 813.2 L1536.2 813.3 L1537.6 812.2 L1539 810.7 L1540.3 809.2 L1541.7 807.9 L1543.1 807 L1544.8 806.7 L1546.5 806.5 L1548.1 806.2 L1549.8 805.8 L1551.5 805.2 L1553.2 804.6 L1554.8 804.3 L1556.5 803.6 L1558.1 802.9 L1559.8 802.1 L1561.5 802 L1563.2 802.5 L1564.8 802.8 L1566.5 802.6 L1568.2 802.2 L1569.6 803 L1571 804.4 L1572.4 805.9 L1573.8 807.1 L1575.2 807.6 L1576.9 808.1 L1578.7 809 L1580.4 809.7 L1582.1 810.5 L1584 809.8 L1585.8 809.5 L1587.7 809.2 L1589.4 809.2 L1591 808.5 L1592.7 807.8 L1594.3 807.9 L1596 808.1 L1597.7 807.7 L1599.3 807.4 L1601 807.4 L1602.7 807.1 L1604.3 807 L1606 807.4 L1607.7 807.2 L1609.3 806.9 L1611 807" fill="none" stroke="#e8101c" stroke-width="3" stroke-linejoin="round" stroke-linecap="butt"  clip-path="url(#cpd)"/>
<text transform="translate(26.27,1096.70) rotate(-90) scale(1.0752,1)" font-size="32.65" fill="#111">Transmission</text>
<text transform="translate(877.09,1092.00) rotate(-90) scale(1.1115,1)" font-size="31.29" fill="#111">Transmission</text>
<text transform="translate(320.58,1314.71) scale(1.0000,1)" font-size="28.98" font-weight="normal" font-style="normal" fill="#111"  letter-spacing="1.25">Frequency (GHz)</text>
<text transform="translate(1168.76,1310.70) scale(1.0000,1)" font-size="30.48" font-weight="normal" font-style="normal" fill="#111"  letter-spacing="0.44">Frequency (GHz)</text>
<text transform="translate(578.57,1062.00) scale(1.0006,1)" font-size="37.68" font-weight="normal" font-style="normal" fill="#111" >Δ</text>
<text transform="translate(604.99,1071.82) scale(1.0000,1)" font-size="17.69" font-weight="normal" font-style="normal" fill="#3a3a3a"  letter-spacing="2.72">disorder</text>
<line x1="551" y1="1102.5" x2="648.6" y2="1102.5" stroke="#3c48a0" stroke-width="4" stroke-linecap="round"/>
<line x1="550.7" y1="1150.5" x2="648.9" y2="1150.5" stroke="#e8101c" stroke-width="3.4" stroke-linecap="round"/>
<line x1="553" y1="1198" x2="648.6" y2="1198" stroke="#111" stroke-width="4" stroke-linecap="round"/>
<text transform="translate(661.71,1113.81) scale(1.0408,1)" font-size="28.59" font-weight="normal" font-style="normal" fill="#111" >0.62</text>
<text transform="translate(661.72,1160.32) scale(1.0664,1)" font-size="27.61" font-weight="normal" font-style="normal" fill="#111" >0.34</text>
<text transform="translate(661.61,1206.83) scale(1.2100,1)" font-size="26.62" font-weight="normal" font-style="normal" fill="#111" >0</text>
<line x1="244.5" y1="1000.5" x2="288.7" y2="964.5" stroke="#3c48a0" stroke-width="5.5"/>
<polygon points="295.3,959.1 286.5,975.3 285.4,967.2 277.7,964.4" fill="#3c48a0"/>
<line x1="244.5" y1="1000.5" x2="200" y2="1035.5" stroke="#3c48a0" stroke-width="5.5"/>
<polygon points="193.3,1040.7 202.3,1024.7 203.3,1032.8 211,1035.7" fill="#3c48a0"/>
<line x1="244.7" y1="1000" x2="244.7" y2="1054.6" stroke="#e8101c" stroke-width="4.5"/>
<polygon points="244.7,1062.6 237.7,1046.6 244.7,1050.6 251.7,1046.6" fill="#e8101c"/>
<text transform="translate(294.01,995.40) scale(0.9108,1)" font-size="21.30" font-weight="bold" font-style="italic" fill="#3c48a0" stroke="#3c48a0" stroke-width="0.8" stroke-linejoin="round">E</text>
<text transform="translate(307.20,999.19) scale(0.9299,1)" font-size="13.38" font-weight="bold" font-style="italic" fill="#3c48a0" stroke="#3c48a0" stroke-width="0.7" stroke-linejoin="round">y</text>
<text transform="translate(256.75,1059.10) scale(0.8482,1)" font-size="19.31" font-weight="bold" font-style="italic" fill="#e8101c" stroke="#e8101c" stroke-width="0.8" stroke-linejoin="round">k</text>
<text transform="translate(267.66,1064.20) scale(0.9168,1)" font-size="13.96" font-weight="bold" font-style="italic" fill="#e8101c" stroke="#e8101c" stroke-width="0.7" stroke-linejoin="round">z</text>
<polygon points="133.6,1128.2 145.2,1128.2 219.2,1069.2 207.6,1069.2" fill="url(#gtop)"/>
<polygon points="145.2,1128.2 219.2,1069.2 219.2,1076 145.2,1139.7" fill="#827d7d"/>
<rect x="133.6" y="1128.2" width="11.6" height="11.5" fill="#f6f6f6"/>
<polygon points="154.9,1130 166.5,1130 240.5,1071 228.9,1071" fill="url(#gtop)"/>
<polygon points="166.5,1130 240.5,1071 240.5,1077.8 166.5,1141.5" fill="#827d7d"/>
<rect x="154.9" y="1130" width="11.6" height="11.5" fill="#f6f6f6"/>
<polygon points="176.2,1131.7 187.8,1131.7 261.8,1072.7 250.2,1072.7" fill="url(#gtop)"/>
<polygon points="187.8,1131.7 261.8,1072.7 261.8,1079.5 187.8,1143.2" fill="#827d7d"/>
<rect x="176.2" y="1131.7" width="11.6" height="11.5" fill="#f6f6f6"/>
<polygon points="197.5,1133.5 209.1,1133.5 283.1,1074.5 271.5,1074.5" fill="url(#gtop)"/>
<polygon points="209.1,1133.5 283.1,1074.5 283.1,1081.2 209.1,1145" fill="#827d7d"/>
<rect x="197.5" y="1133.5" width="11.6" height="11.5" fill="#f6f6f6"/>
<polygon points="218.8,1135.2 230.4,1135.2 304.4,1076.2 292.8,1076.2" fill="url(#gtop)"/>
<polygon points="230.4,1135.2 304.4,1076.2 304.4,1083 230.4,1146.7" fill="#827d7d"/>
<rect x="218.8" y="1135.2" width="11.6" height="11.5" fill="#f6f6f6"/>
<polygon points="240.1,1137 251.7,1137 325.7,1078 314.1,1078" fill="url(#gtop)"/>
<polygon points="251.7,1137 325.7,1078 325.7,1084.8 251.7,1148.5" fill="#827d7d"/>
<rect x="240.1" y="1137" width="11.6" height="11.5" fill="#f6f6f6"/>
<polygon points="261.4,1138.7 273,1138.7 347,1079.7 335.4,1079.7" fill="url(#gtop)"/>
<polygon points="273,1138.7 347,1079.7 347,1086.5 273,1150.2" fill="#827d7d"/>
<rect x="261.4" y="1138.7" width="11.6" height="11.5" fill="#f6f6f6"/>
<text transform="translate(1373.46,1103.80) scale(1.1043,1)" font-size="36.67" font-weight="normal" font-style="normal" fill="#111" >Exp.</text>
<text transform="translate(1495.38,1103.85) scale(1.0931,1)" font-size="34.97" font-weight="normal" font-style="normal" fill="#111" >Simul.</text>
<text transform="translate(1291.53,1150.60) scale(0.9895,1)" font-size="38.84" font-weight="normal" font-style="normal" fill="#111" >TM</text>
<text transform="translate(1291.57,1197.50) scale(0.9530,1)" font-size="38.26" font-weight="normal" font-style="normal" fill="#111" >TE</text>
<line x1="1366.4" y1="1139.2" x2="1468.3" y2="1139.2" stroke="#3c48a0" stroke-width="3.6"/>
<line x1="1367.5" y1="1185" x2="1469.3" y2="1185" stroke="#e8101c" stroke-width="3.2"/>
<line x1="1496" y1="1139.2" x2="1581" y2="1139.2" stroke="#3c48a0" stroke-width="3.6" stroke-dasharray="17.5 16.2"/>
<line x1="1497" y1="1185" x2="1584" y2="1185" stroke="#e8101c" stroke-width="3.2" stroke-dasharray="17.5 16.2"/>
</svg>
</body></html>
